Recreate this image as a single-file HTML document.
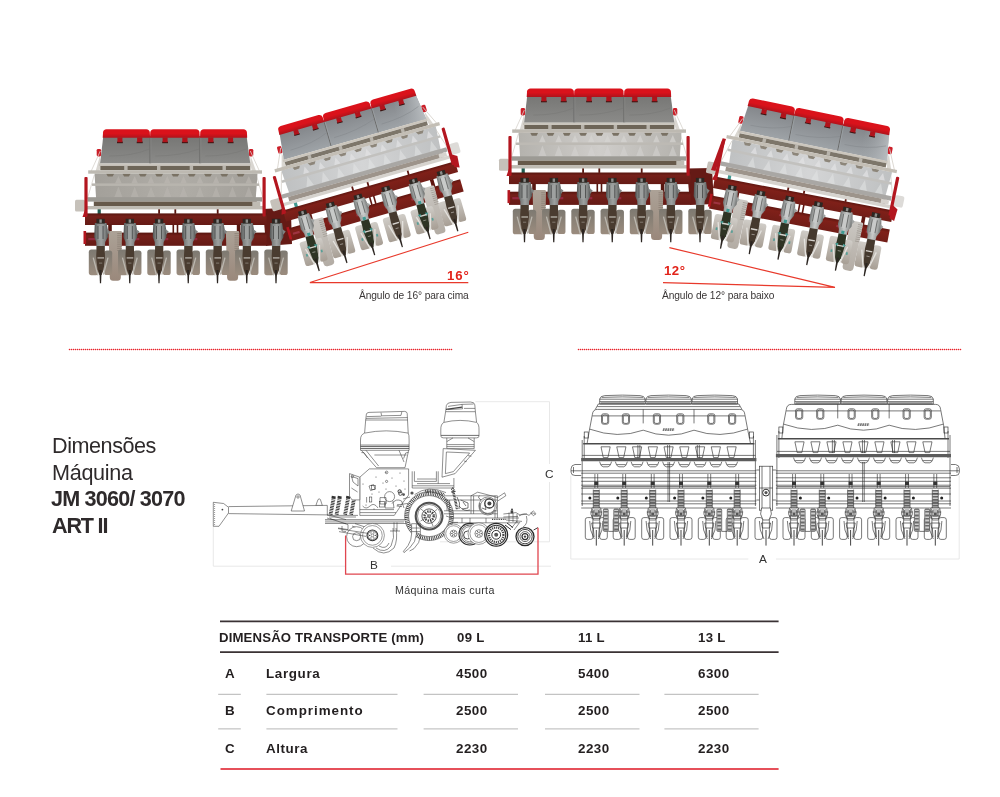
<!DOCTYPE html><html><head><meta charset="utf-8"><title>JM 3060/3070</title>
<style>
html,body{margin:0;padding:0;background:#fff;}
body{width:1000px;height:797px;position:relative;overflow:hidden;font-family:"Liberation Sans",sans-serif;color:#231f20;}
#g{position:absolute;left:0;top:0;}
.t{position:absolute;white-space:nowrap;line-height:1;will-change:transform;}
.cap{font-size:10.2px;color:#3a3636;letter-spacing:-0.09px;}
.cap2{font-size:10.7px;color:#333;letter-spacing:0.36px;}
.h1{font-size:21.6px;color:#2e2a2b;letter-spacing:-0.6px;}
.h1.b{font-weight:bold;letter-spacing:-1.2px;}
.lab{font-size:11.8px;color:#333;}
.th{font-size:13.2px;font-weight:bold;color:#231f20;}
.td{font-size:13.4px;font-weight:bold;color:#231f20;}
.ln{position:absolute;}
.ln.g{height:1px;background:#c4c4c4;}
</style></head><body>
<svg id="g" width="1000" height="797" viewBox="0 0 1000 797">
<path d="M263,209 L283,208 L291,214 L292,244 L266,246 Z" fill="#651a15"/>
<path d="M687,168.4 L712,168 L714,204 L690,205 Z" fill="#651a15"/>
<defs><linearGradient id="lidc" x1="0" y1="0" x2="0" y2="1"><stop offset="0" stop-color="#da121b"/><stop offset="0.5" stop-color="#da121b"/><stop offset="1" stop-color="#b0131b"/></linearGradient><linearGradient id="hopc" x1="0" y1="0" x2="0" y2="1"><stop offset="0" stop-color="#83868a"/><stop offset="1" stop-color="#9ea3a7"/></linearGradient><linearGradient id="sdc" x1="0" y1="0" x2="1" y2="0"><stop offset="0" stop-color="#9ea3a7" stop-opacity="0"/><stop offset="1" stop-color="#b9bdc0"/></linearGradient><linearGradient id="cwc" x1="0" y1="0" x2="0" y2="1"><stop offset="0" stop-color="#d0cdc8"/><stop offset="1" stop-color="#a79e94"/></linearGradient><linearGradient id="whc" x1="0" y1="0" x2="0" y2="1"><stop offset="0" stop-color="#cbc8c3"/><stop offset="1" stop-color="#b3aca4"/></linearGradient><linearGradient id="lowc" x1="0" y1="0" x2="1" y2="0"><stop offset="0" stop-color="#bfc1c2"/><stop offset="0.5" stop-color="#d4d5d6"/><stop offset="1" stop-color="#bfc1c2"/></linearGradient><linearGradient id="frc" x1="0" y1="0" x2="0" y2="1"><stop offset="0" stop-color="#5f1610"/><stop offset="0.25" stop-color="#7f2019"/><stop offset="1" stop-color="#711d17"/></linearGradient><linearGradient id="bdc" x1="0" y1="0" x2="1" y2="0"><stop offset="0" stop-color="#6c6e6d"/><stop offset="0.22" stop-color="#9fa2a1"/><stop offset="0.5" stop-color="#c8cac9"/><stop offset="0.8" stop-color="#9fa2a1"/><stop offset="1" stop-color="#6c6e6d"/></linearGradient></defs>
<g transform="translate(750,97.6) rotate(11.6) translate(-18,84) rotate(-0.8) translate(18,-84)">
<rect x="-5.7" y="79.6" width="3.2" height="5.4" fill="#3f9a92"/>
<rect x="54.9" y="79.6" width="1.8" height="5.2" fill="#5f1610"/>
<rect x="71.1" y="79.6" width="1.8" height="5.2" fill="#5f1610"/>
<rect x="113.5" y="79.6" width="1.8" height="5.2" fill="#5f1610"/>
<rect x="-18.3" y="84.4" width="181.5" height="11.6" fill="url(#frc)"/>
<rect x="4.9" y="95.5" width="3.6" height="8.6" fill="#5f1610"/>
<rect x="69.2" y="95.5" width="1.6" height="8.6" fill="#5f1610"/>
<rect x="73.4" y="95.5" width="1.6" height="8.6" fill="#5f1610"/>
<rect x="133.5" y="95.5" width="3.6" height="8.6" fill="#5f1610"/>
<rect x="-18.3" y="103.6" width="181.5" height="13.2" fill="url(#frc)"/>
<rect x="-15" y="109" width="7" height="2.2" fill="#a83a4c" opacity="0.8"/>
<rect x="23" y="109" width="13" height="2.2" fill="#a83a4c" opacity="0.8"/>
<rect x="52" y="109" width="8" height="2.2" fill="#a83a4c" opacity="0.8"/>
<rect x="60" y="109" width="5" height="2.2" fill="#a83a4c" opacity="0.8"/>
<rect x="82" y="109" width="12" height="2.2" fill="#a83a4c" opacity="0.8"/>
<rect x="110" y="109" width="9" height="2.2" fill="#a83a4c" opacity="0.8"/>
<rect x="140" y="109" width="10" height="2.2" fill="#a83a4c" opacity="0.8"/>
<rect x="-19.8" y="102" width="2.6" height="13" fill="#b3161f"/>
<path d="M5.3,103.4 Q5.3,102 6.7,102 L17.3,102 Q18.7,102 18.7,103.4 L17.5,148.6 Q17.3,151.8 14.3,151.8 L9.7,151.8 Q6.7,151.8 6.5,148.6 Z" fill="url(#whc)"/>
<rect x="13.9" y="104.2" width="4.6" height="0.9" fill="#a39d96"/>
<rect x="13.9" y="106.3" width="4.6" height="0.9" fill="#a39d96"/>
<rect x="13.9" y="108.4" width="4.6" height="0.9" fill="#a39d96"/>
<rect x="13.9" y="110.5" width="4.6" height="0.9" fill="#a39d96"/>
<rect x="13.9" y="112.6" width="4.6" height="0.9" fill="#a39d96"/>
<rect x="13.9" y="114.7" width="4.6" height="0.9" fill="#a39d96"/>
<rect x="13.9" y="116.8" width="4.6" height="0.9" fill="#a39d96"/>
<rect x="13.9" y="118.9" width="4.6" height="0.9" fill="#a39d96"/>
<rect x="13.9" y="121" width="4.6" height="0.9" fill="#a39d96"/>
<path d="M122.6,103.4 Q122.6,102 124,102 L134.6,102 Q136,102 136,103.4 L134.8,148.6 Q134.6,151.8 131.6,151.8 L127,151.8 Q124,151.8 123.8,148.6 Z" fill="url(#whc)"/>
<rect x="131.2" y="104.2" width="4.6" height="0.9" fill="#a39d96"/>
<rect x="131.2" y="106.3" width="4.6" height="0.9" fill="#a39d96"/>
<rect x="131.2" y="108.4" width="4.6" height="0.9" fill="#a39d96"/>
<rect x="131.2" y="110.5" width="4.6" height="0.9" fill="#a39d96"/>
<rect x="131.2" y="112.6" width="4.6" height="0.9" fill="#a39d96"/>
<rect x="131.2" y="114.7" width="4.6" height="0.9" fill="#a39d96"/>
<rect x="131.2" y="116.8" width="4.6" height="0.9" fill="#a39d96"/>
<rect x="131.2" y="118.9" width="4.6" height="0.9" fill="#a39d96"/>
<rect x="131.2" y="121" width="4.6" height="0.9" fill="#a39d96"/>
<rect x="-11.2" y="120.6" width="9.8" height="25.6" rx="2.6" fill="url(#cwc)"/>
<rect x="4.2" y="121.6" width="8" height="24.4" rx="2.6" fill="url(#cwc)"/>
<path d="M-5.2,94 L6.6,94 L7.8,101 L8,108 L5.2,113 L4.6,121 L-3.4,121 L-3.8,113 L-5.8,108 Z" fill="url(#bdc)"/>
<rect x="-1.4" y="97" width="3.8" height="14" fill="#c8cac9"/>
<rect x="-2.5" y="97" width="0.9" height="13" fill="#6c6e6d"/><rect x="2.6" y="97" width="0.9" height="13" fill="#6c6e6d"/>
<path d="M6.6,100 L10.2,102.4 L7.8,105.8 Z" fill="#9fa2a1"/>
<rect x="-3.6" y="89.8" width="8.4" height="4.8" fill="#2c2722"/>
<rect x="-0.6" y="90.4" width="2.4" height="3.4" fill="#8d8d8b"/>
<path d="M-3.2,117 L4.6,117 L5,127 L4.8,131 L3.6,141 L1.6,146 L-0.6,146 L-2.4,141 L-3.6,131 L-3.8,127 Z" fill="#2e3424"/>
<rect x="-1" y="113.6" width="3.2" height="3.2" fill="#3f9a92"/>
<path d="M-5,127.6 L-1.8,126.4 L-2,130.4 Z M6.2,127.6 L3,126.4 L3.2,130.4 Z" fill="#3f9a92"/>
<rect x="-8" y="134" width="1.8" height="2.6" fill="#3f9a92" opacity="0.8"/><rect x="7.6" y="134" width="1.8" height="2.6" fill="#3f9a92" opacity="0.8"/>
<path d="M-6.8,128.6 L-2,146.4 M8,128.6 L3.4,145.6" stroke="#e4e2de" stroke-width="1.3" fill="none"/>
<rect x="-2.6" y="128.2" width="6.6" height="1.4" fill="#e4e2de" opacity="0.9"/>
<rect x="-1" y="133.6" width="3.2" height="1" fill="#e4e2de" opacity="0.5"/>
<path d="M-0.6,141 L1.6,141 L1.1,154.2 L-0.1,154.2 Z" fill="#2b2521"/>
<rect x="18.05" y="120.6" width="9.8" height="25.6" rx="2.6" fill="url(#cwc)"/>
<rect x="33.45" y="121.6" width="8" height="24.4" rx="2.6" fill="url(#cwc)"/>
<path d="M24.05,94 L35.85,94 L37.05,101 L37.25,108 L34.45,113 L33.85,121 L25.85,121 L25.45,113 L23.45,108 Z" fill="url(#bdc)"/>
<rect x="27.85" y="97" width="3.8" height="14" fill="#c8cac9"/>
<rect x="26.75" y="97" width="0.9" height="13" fill="#6c6e6d"/><rect x="31.85" y="97" width="0.9" height="13" fill="#6c6e6d"/>
<path d="M35.85,100 L39.45,102.4 L37.05,105.8 Z" fill="#9fa2a1"/>
<rect x="25.65" y="89.8" width="8.4" height="4.8" fill="#2c2722"/>
<rect x="28.65" y="90.4" width="2.4" height="3.4" fill="#8d8d8b"/>
<path d="M26.05,117 L33.85,117 L34.25,127 L34.05,131 L32.85,141 L30.85,146 L28.65,146 L26.85,141 L25.65,131 L25.45,127 Z" fill="#45392e"/>
<path d="M22.45,128.6 L27.25,146.4 M37.25,128.6 L32.65,145.6" stroke="#e4e2de" stroke-width="1.3" fill="none"/>
<rect x="26.65" y="128.2" width="6.6" height="1.4" fill="#e4e2de" opacity="0.9"/>
<rect x="28.25" y="133.6" width="3.2" height="1" fill="#e4e2de" opacity="0.5"/>
<path d="M28.65,141 L30.85,141 L30.35,154.2 L29.15,154.2 Z" fill="#2b2521"/>
<rect x="47.3" y="120.6" width="9.8" height="25.6" rx="2.6" fill="url(#cwc)"/>
<rect x="62.7" y="121.6" width="8" height="24.4" rx="2.6" fill="url(#cwc)"/>
<path d="M53.3,94 L65.1,94 L66.3,101 L66.5,108 L63.7,113 L63.1,121 L55.1,121 L54.7,113 L52.7,108 Z" fill="url(#bdc)"/>
<rect x="57.1" y="97" width="3.8" height="14" fill="#c8cac9"/>
<rect x="56" y="97" width="0.9" height="13" fill="#6c6e6d"/><rect x="61.1" y="97" width="0.9" height="13" fill="#6c6e6d"/>
<path d="M65.1,100 L68.7,102.4 L66.3,105.8 Z" fill="#9fa2a1"/>
<rect x="54.9" y="89.8" width="8.4" height="4.8" fill="#2c2722"/>
<rect x="57.9" y="90.4" width="2.4" height="3.4" fill="#8d8d8b"/>
<path d="M55.3,117 L63.1,117 L63.5,127 L63.3,131 L62.1,141 L60.1,146 L57.9,146 L56.1,141 L54.9,131 L54.7,127 Z" fill="#2e3424"/>
<rect x="57.5" y="113.6" width="3.2" height="3.2" fill="#3f9a92"/>
<path d="M53.5,127.6 L56.7,126.4 L56.5,130.4 Z M64.7,127.6 L61.5,126.4 L61.7,130.4 Z" fill="#3f9a92"/>
<rect x="50.5" y="134" width="1.8" height="2.6" fill="#3f9a92" opacity="0.8"/><rect x="66.1" y="134" width="1.8" height="2.6" fill="#3f9a92" opacity="0.8"/>
<path d="M51.7,128.6 L56.5,146.4 M66.5,128.6 L61.9,145.6" stroke="#e4e2de" stroke-width="1.3" fill="none"/>
<rect x="55.9" y="128.2" width="6.6" height="1.4" fill="#e4e2de" opacity="0.9"/>
<rect x="57.5" y="133.6" width="3.2" height="1" fill="#e4e2de" opacity="0.5"/>
<path d="M57.9,141 L60.1,141 L59.6,154.2 L58.4,154.2 Z" fill="#2b2521"/>
<rect x="76.55" y="120.6" width="9.8" height="25.6" rx="2.6" fill="url(#cwc)"/>
<rect x="91.95" y="121.6" width="8" height="24.4" rx="2.6" fill="url(#cwc)"/>
<path d="M82.55,94 L94.35,94 L95.55,101 L95.75,108 L92.95,113 L92.35,121 L84.35,121 L83.95,113 L81.95,108 Z" fill="url(#bdc)"/>
<rect x="86.35" y="97" width="3.8" height="14" fill="#c8cac9"/>
<rect x="85.25" y="97" width="0.9" height="13" fill="#6c6e6d"/><rect x="90.35" y="97" width="0.9" height="13" fill="#6c6e6d"/>
<path d="M94.35,100 L97.95,102.4 L95.55,105.8 Z" fill="#9fa2a1"/>
<rect x="84.15" y="89.8" width="8.4" height="4.8" fill="#2c2722"/>
<rect x="87.15" y="90.4" width="2.4" height="3.4" fill="#8d8d8b"/>
<path d="M84.55,117 L92.35,117 L92.75,127 L92.55,131 L91.35,141 L89.35,146 L87.15,146 L85.35,141 L84.15,131 L83.95,127 Z" fill="#45392e"/>
<path d="M80.95,128.6 L85.75,146.4 M95.75,128.6 L91.15,145.6" stroke="#e4e2de" stroke-width="1.3" fill="none"/>
<rect x="85.15" y="128.2" width="6.6" height="1.4" fill="#e4e2de" opacity="0.9"/>
<rect x="86.75" y="133.6" width="3.2" height="1" fill="#e4e2de" opacity="0.5"/>
<path d="M87.15,141 L89.35,141 L88.85,154.2 L87.65,154.2 Z" fill="#2b2521"/>
<rect x="105.8" y="120.6" width="9.8" height="25.6" rx="2.6" fill="url(#cwc)"/>
<rect x="121.2" y="121.6" width="8" height="24.4" rx="2.6" fill="url(#cwc)"/>
<path d="M111.8,94 L123.6,94 L124.8,101 L125,108 L122.2,113 L121.6,121 L113.6,121 L113.2,113 L111.2,108 Z" fill="url(#bdc)"/>
<rect x="115.6" y="97" width="3.8" height="14" fill="#c8cac9"/>
<rect x="114.5" y="97" width="0.9" height="13" fill="#6c6e6d"/><rect x="119.6" y="97" width="0.9" height="13" fill="#6c6e6d"/>
<path d="M123.6,100 L127.2,102.4 L124.8,105.8 Z" fill="#9fa2a1"/>
<rect x="113.4" y="89.8" width="8.4" height="4.8" fill="#2c2722"/>
<rect x="116.4" y="90.4" width="2.4" height="3.4" fill="#8d8d8b"/>
<path d="M113.8,117 L121.6,117 L122,127 L121.8,131 L120.6,141 L118.6,146 L116.4,146 L114.6,141 L113.4,131 L113.2,127 Z" fill="#2e3424"/>
<rect x="116" y="113.6" width="3.2" height="3.2" fill="#3f9a92"/>
<path d="M112,127.6 L115.2,126.4 L115,130.4 Z M123.2,127.6 L120,126.4 L120.2,130.4 Z" fill="#3f9a92"/>
<rect x="109" y="134" width="1.8" height="2.6" fill="#3f9a92" opacity="0.8"/><rect x="124.6" y="134" width="1.8" height="2.6" fill="#3f9a92" opacity="0.8"/>
<path d="M110.2,128.6 L115,146.4 M125,128.6 L120.4,145.6" stroke="#e4e2de" stroke-width="1.3" fill="none"/>
<rect x="114.4" y="128.2" width="6.6" height="1.4" fill="#e4e2de" opacity="0.9"/>
<rect x="116" y="133.6" width="3.2" height="1" fill="#e4e2de" opacity="0.5"/>
<path d="M116.4,141 L118.6,141 L118.1,154.2 L116.9,154.2 Z" fill="#2b2521"/>
<rect x="135.05" y="120.6" width="9.8" height="25.6" rx="2.6" fill="url(#cwc)"/>
<rect x="150.45" y="121.6" width="8" height="24.4" rx="2.6" fill="url(#cwc)"/>
<path d="M141.05,94 L152.85,94 L154.05,101 L154.25,108 L151.45,113 L150.85,121 L142.85,121 L142.45,113 L140.45,108 Z" fill="url(#bdc)"/>
<rect x="144.85" y="97" width="3.8" height="14" fill="#c8cac9"/>
<rect x="143.75" y="97" width="0.9" height="13" fill="#6c6e6d"/><rect x="148.85" y="97" width="0.9" height="13" fill="#6c6e6d"/>
<path d="M152.85,100 L156.45,102.4 L154.05,105.8 Z" fill="#9fa2a1"/>
<rect x="142.65" y="89.8" width="8.4" height="4.8" fill="#2c2722"/>
<rect x="145.65" y="90.4" width="2.4" height="3.4" fill="#8d8d8b"/>
<path d="M143.05,117 L150.85,117 L151.25,127 L151.05,131 L149.85,141 L147.85,146 L145.65,146 L143.85,141 L142.65,131 L142.45,127 Z" fill="#45392e"/>
<path d="M139.45,128.6 L144.25,146.4 M154.25,128.6 L149.65,145.6" stroke="#e4e2de" stroke-width="1.3" fill="none"/>
<rect x="143.65" y="128.2" width="6.6" height="1.4" fill="#e4e2de" opacity="0.9"/>
<rect x="145.25" y="133.6" width="3.2" height="1" fill="#e4e2de" opacity="0.5"/>
<path d="M145.65,141 L147.85,141 L147.35,154.2 L146.15,154.2 Z" fill="#2b2521"/>
</g>
<g transform="translate(750,97.6) rotate(11.6)">
<rect x="-6.6" y="19.9" width="4.4" height="7.5" rx="1.4" fill="#cc1f29"/>
<rect x="145.6" y="19.9" width="4.4" height="7.5" rx="1.4" fill="#cc1f29"/>
<path d="M-3,22 L-13,44 M-9,46 L-16,70 M147,22 L157,44 M153,46 L160,70" stroke="#d6d2cb" stroke-width="0.8" fill="none"/>
<path d="M-3.4,27 L-8.4,44.6 L-4,44.6 L-2.6,34 Z M147.4,27 L153.6,44.6 L149,44.6 L146.8,34 Z" fill="#cbc6bd" opacity="0.7"/>
<path d="M0,7 L143.3,7 L147,34.6 L-3.2,34.6 Z" fill="url(#hopc)"/>
<path d="M120,7 L143.3,7 L147,34.6 L118,34.6 Z" fill="url(#sdc)"/>
<path d="M46.7,9 L46.7,34.6 M96.6,9 L96.6,34.6" stroke="#6a6a69" stroke-width="1"/>
<path d="M47.6,9 L47.6,34.6 M97.5,9 L97.5,34.6" stroke="#9ea3a7" stroke-width="0.8" opacity="0.9"/>
<path d="M6,27 Q30,27 46,20 M52,27 Q76,27 96,20 M102,27 Q126,27 143,20" stroke="#83868a" stroke-width="0.6" fill="none" opacity="0.8"/>
<path d="M-0.6,8.8 L-0.3,3.4 Q0,0.6 3.2,0.3 L43,0.3 Q46.2,0.6 46.5,3.4 L46.8,8.8 Z" fill="url(#lidc)"/>
<path d="M46.7,8.8 L47,3.4 Q47.3,0.6 50.5,0.3 L92.7,0.3 Q95.9,0.6 96.2,3.4 L96.5,8.8 Z" fill="url(#lidc)"/>
<path d="M96.7,8.8 L97,3.4 Q97.3,0.6 100.5,0.3 L140.1,0.3 Q143.3,0.6 143.6,3.4 L143.9,8.8 Z" fill="url(#lidc)"/>
<rect x="13.7" y="12.6" width="5.8" height="1.6" fill="#3a1512"/>
<rect x="14.1" y="8.4" width="5" height="4.8" fill="#b0131b"/>
<rect x="33.4" y="12.6" width="6" height="1.6" fill="#3a1512"/>
<rect x="33.8" y="8.4" width="5.2" height="4.8" fill="#b0131b"/>
<rect x="58.9" y="12.6" width="5.8" height="1.6" fill="#3a1512"/>
<rect x="59.3" y="8.4" width="5" height="4.8" fill="#b0131b"/>
<rect x="78.6" y="12.6" width="6" height="1.6" fill="#3a1512"/>
<rect x="79" y="8.4" width="5.2" height="4.8" fill="#b0131b"/>
<rect x="104.5" y="12.6" width="6" height="1.6" fill="#3a1512"/>
<rect x="104.9" y="8.4" width="5.2" height="4.8" fill="#b0131b"/>
<rect x="124.4" y="12.6" width="5.8" height="1.6" fill="#3a1512"/>
<rect x="124.8" y="8.4" width="5" height="4.8" fill="#b0131b"/>
<rect x="-4.4" y="34.5" width="152" height="2.4" fill="#cbc6bd"/>
<rect x="-3" y="36.9" width="150" height="4.4" fill="#7d766a"/>
<rect x="20.9" y="36.9" width="3.4" height="4.4" fill="#b9b5ad"/>
<rect x="53.7" y="36.9" width="3.4" height="4.4" fill="#b9b5ad"/>
<rect x="86.4" y="36.9" width="3.4" height="4.4" fill="#b9b5ad"/>
<rect x="119.2" y="36.9" width="3.4" height="4.4" fill="#b9b5ad"/>
<path d="M-8.8,44.5 L154.2,44.5 L152.5,69 L-7.2,69 Z" fill="url(#lowc)"/>
<path d="M2.9,44.7 L10.9,44.7 L9.3,47.6 L4.5,47.6 Z" fill="#8d867a"/>
<path d="M15.1,47 L18.4,54.4 L11.7,54.4 Z" fill="#e2e3e4" opacity="0.7"/>
<path d="M15.1,57.5 L19.1,68 L11.1,68 Z" fill="#e2e3e4" opacity="0.55"/>
<path d="M19.2,44.7 L27.2,44.7 L25.6,47.6 L20.8,47.6 Z" fill="#8d867a"/>
<path d="M31.4,47 L34.7,54.4 L28,54.4 Z" fill="#e2e3e4" opacity="0.7"/>
<path d="M31.4,57.5 L35.4,68 L27.4,68 Z" fill="#e2e3e4" opacity="0.55"/>
<path d="M35.5,44.7 L43.5,44.7 L41.9,47.6 L37.1,47.6 Z" fill="#8d867a"/>
<path d="M47.7,47 L51,54.4 L44.3,54.4 Z" fill="#e2e3e4" opacity="0.7"/>
<path d="M47.7,57.5 L51.7,68 L43.7,68 Z" fill="#e2e3e4" opacity="0.55"/>
<path d="M51.8,44.7 L59.8,44.7 L58.2,47.6 L53.4,47.6 Z" fill="#8d867a"/>
<path d="M64,47 L67.3,54.4 L60.6,54.4 Z" fill="#e2e3e4" opacity="0.7"/>
<path d="M64,57.5 L68,68 L60,68 Z" fill="#e2e3e4" opacity="0.55"/>
<path d="M68.1,44.7 L76.1,44.7 L74.5,47.6 L69.7,47.6 Z" fill="#8d867a"/>
<path d="M80.3,47 L83.6,54.4 L76.9,54.4 Z" fill="#e2e3e4" opacity="0.7"/>
<path d="M80.3,57.5 L84.3,68 L76.3,68 Z" fill="#e2e3e4" opacity="0.55"/>
<path d="M84.4,44.7 L92.4,44.7 L90.8,47.6 L86,47.6 Z" fill="#8d867a"/>
<path d="M96.6,47 L99.9,54.4 L93.2,54.4 Z" fill="#e2e3e4" opacity="0.7"/>
<path d="M96.6,57.5 L100.6,68 L92.6,68 Z" fill="#e2e3e4" opacity="0.55"/>
<path d="M100.7,44.7 L108.7,44.7 L107.1,47.6 L102.3,47.6 Z" fill="#8d867a"/>
<path d="M112.9,47 L116.2,54.4 L109.5,54.4 Z" fill="#e2e3e4" opacity="0.7"/>
<path d="M112.9,57.5 L116.9,68 L108.9,68 Z" fill="#e2e3e4" opacity="0.55"/>
<path d="M117,44.7 L125,44.7 L123.4,47.6 L118.6,47.6 Z" fill="#8d867a"/>
<path d="M129.2,47 L132.5,54.4 L125.8,54.4 Z" fill="#e2e3e4" opacity="0.7"/>
<path d="M129.2,57.5 L133.2,68 L125.2,68 Z" fill="#e2e3e4" opacity="0.55"/>
<path d="M133.3,44.7 L141.3,44.7 L139.7,47.6 L134.9,47.6 Z" fill="#8d867a"/>
<path d="M145.5,47 L148.8,54.4 L142.1,54.4 Z" fill="#e2e3e4" opacity="0.7"/>
<path d="M145.5,57.5 L149.5,68 L141.5,68 Z" fill="#e2e3e4" opacity="0.55"/>
<rect x="-15.1" y="41.3" width="173.8" height="3.4" fill="#c3beb5"/>
<rect x="-11.3" y="54.4" width="167" height="2.5" fill="#c2c1be"/>
<rect x="-15.7" y="68.2" width="174.4" height="4.4" fill="#a9a7a4"/>
<rect x="-9.5" y="72.6" width="163" height="4.6" fill="#9d948b"/>
<rect x="149" y="72.8" width="8" height="4.2" fill="#d6d3ce"/>
<rect x="-18.3" y="77" width="179.5" height="3.4" fill="#d6d3ce"/>
<rect x="-28.3" y="70.7" width="10" height="11.9" rx="1.5" fill="#c6c1ba"/>
<rect x="162" y="66" width="9.5" height="11.5" rx="2" fill="#dddbd8"/>
<path d="M160.5,76 L167,80 L166,92 L161,90 Z" fill="#b3161f"/>
<rect x="-18.9" y="48" width="3.2" height="39.6" rx="1" fill="#b3161f"/>
<rect x="159.2" y="48" width="3.2" height="39.6" rx="1" fill="#b3161f"/>
<path d="M-17.5,78 L-20.8,88 L-16.5,88 Z" fill="#b3161f"/>
</g>
<path d="M722.7,138.2 L726,139 L715.5,171 L711,170 Z" fill="#b3161f"/>
<defs><linearGradient id="lidd" x1="0" y1="0" x2="0" y2="1"><stop offset="0" stop-color="#da121b"/><stop offset="0.5" stop-color="#da121b"/><stop offset="1" stop-color="#b0131b"/></linearGradient><linearGradient id="hopd" x1="0" y1="0" x2="0" y2="1"><stop offset="0" stop-color="#767674"/><stop offset="1" stop-color="#8b8b89"/></linearGradient><linearGradient id="sdd" x1="0" y1="0" x2="1" y2="0"><stop offset="0" stop-color="#8b8b89" stop-opacity="0"/><stop offset="1" stop-color="#8b8b89"/></linearGradient><linearGradient id="cwd" x1="0" y1="0" x2="0" y2="1"><stop offset="0" stop-color="#7d7971"/><stop offset="1" stop-color="#9b8c7e"/></linearGradient><linearGradient id="whd" x1="0" y1="0" x2="0" y2="1"><stop offset="0" stop-color="#aca297"/><stop offset="1" stop-color="#9a887b"/></linearGradient><linearGradient id="lowd" x1="0" y1="0" x2="1" y2="0"><stop offset="0" stop-color="#b4b2ad"/><stop offset="0.5" stop-color="#cfcdca"/><stop offset="1" stop-color="#b4b2ad"/></linearGradient><linearGradient id="frd" x1="0" y1="0" x2="0" y2="1"><stop offset="0" stop-color="#57160f"/><stop offset="0.25" stop-color="#74201a"/><stop offset="1" stop-color="#651a15"/></linearGradient><linearGradient id="bdd" x1="0" y1="0" x2="1" y2="0"><stop offset="0" stop-color="#4f5150"/><stop offset="0.22" stop-color="#7f8281"/><stop offset="0.5" stop-color="#9ea1a0"/><stop offset="0.8" stop-color="#7f8281"/><stop offset="1" stop-color="#4f5150"/></linearGradient></defs>
<g transform="translate(527.3,88.1)">
<rect x="-5.7" y="79.6" width="3.2" height="5.4" fill="#1f5a4e"/>
<rect x="54.9" y="79.6" width="1.8" height="5.2" fill="#57160f"/>
<rect x="71.1" y="79.6" width="1.8" height="5.2" fill="#57160f"/>
<rect x="113.5" y="79.6" width="1.8" height="5.2" fill="#57160f"/>
<rect x="-18.3" y="84.4" width="181.5" height="11.6" fill="url(#frd)"/>
<rect x="4.9" y="95.5" width="3.6" height="8.6" fill="#57160f"/>
<rect x="69.2" y="95.5" width="1.6" height="8.6" fill="#57160f"/>
<rect x="73.4" y="95.5" width="1.6" height="8.6" fill="#57160f"/>
<rect x="133.5" y="95.5" width="3.6" height="8.6" fill="#57160f"/>
<rect x="-18.3" y="103.6" width="181.5" height="13.2" fill="url(#frd)"/>
<rect x="-15" y="109" width="7" height="2.2" fill="#9a2c48" opacity="0.8"/>
<rect x="23" y="109" width="13" height="2.2" fill="#9a2c48" opacity="0.8"/>
<rect x="52" y="109" width="8" height="2.2" fill="#9a2c48" opacity="0.8"/>
<rect x="60" y="109" width="5" height="2.2" fill="#9a2c48" opacity="0.8"/>
<rect x="82" y="109" width="12" height="2.2" fill="#9a2c48" opacity="0.8"/>
<rect x="110" y="109" width="9" height="2.2" fill="#9a2c48" opacity="0.8"/>
<rect x="140" y="109" width="10" height="2.2" fill="#9a2c48" opacity="0.8"/>
<rect x="-19.8" y="102" width="2.6" height="13" fill="#b3161f"/>
<path d="M5.3,103.4 Q5.3,102 6.7,102 L17.3,102 Q18.7,102 18.7,103.4 L17.5,148.6 Q17.3,151.8 14.3,151.8 L9.7,151.8 Q6.7,151.8 6.5,148.6 Z" fill="url(#whd)"/>
<rect x="13.9" y="104.2" width="4.6" height="0.9" fill="#8f8378"/>
<rect x="13.9" y="106.3" width="4.6" height="0.9" fill="#8f8378"/>
<rect x="13.9" y="108.4" width="4.6" height="0.9" fill="#8f8378"/>
<rect x="13.9" y="110.5" width="4.6" height="0.9" fill="#8f8378"/>
<rect x="13.9" y="112.6" width="4.6" height="0.9" fill="#8f8378"/>
<rect x="13.9" y="114.7" width="4.6" height="0.9" fill="#8f8378"/>
<rect x="13.9" y="116.8" width="4.6" height="0.9" fill="#8f8378"/>
<rect x="13.9" y="118.9" width="4.6" height="0.9" fill="#8f8378"/>
<rect x="13.9" y="121" width="4.6" height="0.9" fill="#8f8378"/>
<path d="M122.6,103.4 Q122.6,102 124,102 L134.6,102 Q136,102 136,103.4 L134.8,148.6 Q134.6,151.8 131.6,151.8 L127,151.8 Q124,151.8 123.8,148.6 Z" fill="url(#whd)"/>
<rect x="131.2" y="104.2" width="4.6" height="0.9" fill="#8f8378"/>
<rect x="131.2" y="106.3" width="4.6" height="0.9" fill="#8f8378"/>
<rect x="131.2" y="108.4" width="4.6" height="0.9" fill="#8f8378"/>
<rect x="131.2" y="110.5" width="4.6" height="0.9" fill="#8f8378"/>
<rect x="131.2" y="112.6" width="4.6" height="0.9" fill="#8f8378"/>
<rect x="131.2" y="114.7" width="4.6" height="0.9" fill="#8f8378"/>
<rect x="131.2" y="116.8" width="4.6" height="0.9" fill="#8f8378"/>
<rect x="131.2" y="118.9" width="4.6" height="0.9" fill="#8f8378"/>
<rect x="131.2" y="121" width="4.6" height="0.9" fill="#8f8378"/>
<rect x="-14.5" y="120.6" width="9.8" height="25.6" rx="2.6" fill="url(#cwd)"/>
<rect x="0.9" y="121.6" width="8" height="24.4" rx="2.6" fill="url(#cwd)"/>
<path d="M-8.5,94 L3.3,94 L4.5,101 L4.7,108 L1.9,113 L1.3,121 L-6.7,121 L-7.1,113 L-9.1,108 Z" fill="url(#bdd)"/>
<rect x="-4.7" y="97" width="3.8" height="14" fill="#9ea1a0"/>
<rect x="-5.8" y="97" width="0.9" height="13" fill="#4f5150"/><rect x="-0.7" y="97" width="0.9" height="13" fill="#4f5150"/>
<path d="M3.3,100 L6.9,102.4 L4.5,105.8 Z" fill="#7f8281"/>
<rect x="-6.9" y="89.8" width="8.4" height="4.8" fill="#2c2722"/>
<rect x="-3.9" y="90.4" width="2.4" height="3.4" fill="#8d8d8b"/>
<path d="M-6.5,117 L1.3,117 L1.7,127 L1.5,131 L0.3,141 L-1.7,146 L-3.9,146 L-5.7,141 L-6.9,131 L-7.1,127 Z" fill="#4a3c30"/>
<path d="M-10.1,128.6 L-5.3,146.4 M4.7,128.6 L0.1,145.6" stroke="#bbb7af" stroke-width="1.3" fill="none"/>
<rect x="-5.9" y="128.2" width="6.6" height="1.4" fill="#bbb7af" opacity="0.9"/>
<rect x="-4.3" y="133.6" width="3.2" height="1" fill="#bbb7af" opacity="0.5"/>
<path d="M-3.9,141 L-1.7,141 L-2.2,154.2 L-3.4,154.2 Z" fill="#2b2521"/>
<rect x="14.75" y="120.6" width="9.8" height="25.6" rx="2.6" fill="url(#cwd)"/>
<rect x="30.15" y="121.6" width="8" height="24.4" rx="2.6" fill="url(#cwd)"/>
<path d="M20.75,94 L32.55,94 L33.75,101 L33.95,108 L31.15,113 L30.55,121 L22.55,121 L22.15,113 L20.15,108 Z" fill="url(#bdd)"/>
<rect x="24.55" y="97" width="3.8" height="14" fill="#9ea1a0"/>
<rect x="23.45" y="97" width="0.9" height="13" fill="#4f5150"/><rect x="28.55" y="97" width="0.9" height="13" fill="#4f5150"/>
<path d="M32.55,100 L36.15,102.4 L33.75,105.8 Z" fill="#7f8281"/>
<rect x="22.35" y="89.8" width="8.4" height="4.8" fill="#2c2722"/>
<rect x="25.35" y="90.4" width="2.4" height="3.4" fill="#8d8d8b"/>
<path d="M22.75,117 L30.55,117 L30.95,127 L30.75,131 L29.55,141 L27.55,146 L25.35,146 L23.55,141 L22.35,131 L22.15,127 Z" fill="#4a3c30"/>
<path d="M19.15,128.6 L23.95,146.4 M33.95,128.6 L29.35,145.6" stroke="#bbb7af" stroke-width="1.3" fill="none"/>
<rect x="23.35" y="128.2" width="6.6" height="1.4" fill="#bbb7af" opacity="0.9"/>
<rect x="24.95" y="133.6" width="3.2" height="1" fill="#bbb7af" opacity="0.5"/>
<path d="M25.35,141 L27.55,141 L27.05,154.2 L25.85,154.2 Z" fill="#2b2521"/>
<rect x="44" y="120.6" width="9.8" height="25.6" rx="2.6" fill="url(#cwd)"/>
<rect x="59.4" y="121.6" width="8" height="24.4" rx="2.6" fill="url(#cwd)"/>
<path d="M50,94 L61.8,94 L63,101 L63.2,108 L60.4,113 L59.8,121 L51.8,121 L51.4,113 L49.4,108 Z" fill="url(#bdd)"/>
<rect x="53.8" y="97" width="3.8" height="14" fill="#9ea1a0"/>
<rect x="52.7" y="97" width="0.9" height="13" fill="#4f5150"/><rect x="57.8" y="97" width="0.9" height="13" fill="#4f5150"/>
<path d="M61.8,100 L65.4,102.4 L63,105.8 Z" fill="#7f8281"/>
<rect x="51.6" y="89.8" width="8.4" height="4.8" fill="#2c2722"/>
<rect x="54.6" y="90.4" width="2.4" height="3.4" fill="#8d8d8b"/>
<path d="M52,117 L59.8,117 L60.2,127 L60,131 L58.8,141 L56.8,146 L54.6,146 L52.8,141 L51.6,131 L51.4,127 Z" fill="#4a3c30"/>
<path d="M48.4,128.6 L53.2,146.4 M63.2,128.6 L58.6,145.6" stroke="#bbb7af" stroke-width="1.3" fill="none"/>
<rect x="52.6" y="128.2" width="6.6" height="1.4" fill="#bbb7af" opacity="0.9"/>
<rect x="54.2" y="133.6" width="3.2" height="1" fill="#bbb7af" opacity="0.5"/>
<path d="M54.6,141 L56.8,141 L56.3,154.2 L55.1,154.2 Z" fill="#2b2521"/>
<rect x="73.25" y="120.6" width="9.8" height="25.6" rx="2.6" fill="url(#cwd)"/>
<rect x="88.65" y="121.6" width="8" height="24.4" rx="2.6" fill="url(#cwd)"/>
<path d="M79.25,94 L91.05,94 L92.25,101 L92.45,108 L89.65,113 L89.05,121 L81.05,121 L80.65,113 L78.65,108 Z" fill="url(#bdd)"/>
<rect x="83.05" y="97" width="3.8" height="14" fill="#9ea1a0"/>
<rect x="81.95" y="97" width="0.9" height="13" fill="#4f5150"/><rect x="87.05" y="97" width="0.9" height="13" fill="#4f5150"/>
<path d="M91.05,100 L94.65,102.4 L92.25,105.8 Z" fill="#7f8281"/>
<rect x="80.85" y="89.8" width="8.4" height="4.8" fill="#2c2722"/>
<rect x="83.85" y="90.4" width="2.4" height="3.4" fill="#8d8d8b"/>
<path d="M81.25,117 L89.05,117 L89.45,127 L89.25,131 L88.05,141 L86.05,146 L83.85,146 L82.05,141 L80.85,131 L80.65,127 Z" fill="#4a3c30"/>
<path d="M77.65,128.6 L82.45,146.4 M92.45,128.6 L87.85,145.6" stroke="#bbb7af" stroke-width="1.3" fill="none"/>
<rect x="81.85" y="128.2" width="6.6" height="1.4" fill="#bbb7af" opacity="0.9"/>
<rect x="83.45" y="133.6" width="3.2" height="1" fill="#bbb7af" opacity="0.5"/>
<path d="M83.85,141 L86.05,141 L85.55,154.2 L84.35,154.2 Z" fill="#2b2521"/>
<rect x="102.5" y="120.6" width="9.8" height="25.6" rx="2.6" fill="url(#cwd)"/>
<rect x="117.9" y="121.6" width="8" height="24.4" rx="2.6" fill="url(#cwd)"/>
<path d="M108.5,94 L120.3,94 L121.5,101 L121.7,108 L118.9,113 L118.3,121 L110.3,121 L109.9,113 L107.9,108 Z" fill="url(#bdd)"/>
<rect x="112.3" y="97" width="3.8" height="14" fill="#9ea1a0"/>
<rect x="111.2" y="97" width="0.9" height="13" fill="#4f5150"/><rect x="116.3" y="97" width="0.9" height="13" fill="#4f5150"/>
<path d="M120.3,100 L123.9,102.4 L121.5,105.8 Z" fill="#7f8281"/>
<rect x="110.1" y="89.8" width="8.4" height="4.8" fill="#2c2722"/>
<rect x="113.1" y="90.4" width="2.4" height="3.4" fill="#8d8d8b"/>
<path d="M110.5,117 L118.3,117 L118.7,127 L118.5,131 L117.3,141 L115.3,146 L113.1,146 L111.3,141 L110.1,131 L109.9,127 Z" fill="#4a3c30"/>
<path d="M106.9,128.6 L111.7,146.4 M121.7,128.6 L117.1,145.6" stroke="#bbb7af" stroke-width="1.3" fill="none"/>
<rect x="111.1" y="128.2" width="6.6" height="1.4" fill="#bbb7af" opacity="0.9"/>
<rect x="112.7" y="133.6" width="3.2" height="1" fill="#bbb7af" opacity="0.5"/>
<path d="M113.1,141 L115.3,141 L114.8,154.2 L113.6,154.2 Z" fill="#2b2521"/>
<rect x="131.75" y="120.6" width="9.8" height="25.6" rx="2.6" fill="url(#cwd)"/>
<rect x="147.15" y="121.6" width="8" height="24.4" rx="2.6" fill="url(#cwd)"/>
<path d="M137.75,94 L149.55,94 L150.75,101 L150.95,108 L148.15,113 L147.55,121 L139.55,121 L139.15,113 L137.15,108 Z" fill="url(#bdd)"/>
<rect x="141.55" y="97" width="3.8" height="14" fill="#9ea1a0"/>
<rect x="140.45" y="97" width="0.9" height="13" fill="#4f5150"/><rect x="145.55" y="97" width="0.9" height="13" fill="#4f5150"/>
<path d="M149.55,100 L153.15,102.4 L150.75,105.8 Z" fill="#7f8281"/>
<rect x="139.35" y="89.8" width="8.4" height="4.8" fill="#2c2722"/>
<rect x="142.35" y="90.4" width="2.4" height="3.4" fill="#8d8d8b"/>
<path d="M139.75,117 L147.55,117 L147.95,127 L147.75,131 L146.55,141 L144.55,146 L142.35,146 L140.55,141 L139.35,131 L139.15,127 Z" fill="#4a3c30"/>
<path d="M136.15,128.6 L140.95,146.4 M150.95,128.6 L146.35,145.6" stroke="#bbb7af" stroke-width="1.3" fill="none"/>
<rect x="140.35" y="128.2" width="6.6" height="1.4" fill="#bbb7af" opacity="0.9"/>
<rect x="141.95" y="133.6" width="3.2" height="1" fill="#bbb7af" opacity="0.5"/>
<path d="M142.35,141 L144.55,141 L144.05,154.2 L142.85,154.2 Z" fill="#2b2521"/>
<rect x="161" y="120.6" width="9.8" height="25.6" rx="2.6" fill="url(#cwd)"/>
<rect x="176.4" y="121.6" width="8" height="24.4" rx="2.6" fill="url(#cwd)"/>
<path d="M167,94 L178.8,94 L180,101 L180.2,108 L177.4,113 L176.8,121 L168.8,121 L168.4,113 L166.4,108 Z" fill="url(#bdd)"/>
<rect x="170.8" y="97" width="3.8" height="14" fill="#9ea1a0"/>
<rect x="169.7" y="97" width="0.9" height="13" fill="#4f5150"/><rect x="174.8" y="97" width="0.9" height="13" fill="#4f5150"/>
<path d="M178.8,100 L182.4,102.4 L180,105.8 Z" fill="#7f8281"/>
<rect x="168.6" y="89.8" width="8.4" height="4.8" fill="#2c2722"/>
<rect x="171.6" y="90.4" width="2.4" height="3.4" fill="#8d8d8b"/>
<path d="M169,117 L176.8,117 L177.2,127 L177,131 L175.8,141 L173.8,146 L171.6,146 L169.8,141 L168.6,131 L168.4,127 Z" fill="#4a3c30"/>
<path d="M165.4,128.6 L170.2,146.4 M180.2,128.6 L175.6,145.6" stroke="#bbb7af" stroke-width="1.3" fill="none"/>
<rect x="169.6" y="128.2" width="6.6" height="1.4" fill="#bbb7af" opacity="0.9"/>
<rect x="171.2" y="133.6" width="3.2" height="1" fill="#bbb7af" opacity="0.5"/>
<path d="M171.6,141 L173.8,141 L173.3,154.2 L172.1,154.2 Z" fill="#2b2521"/>
</g>
<g transform="translate(527.3,88.1)">
<rect x="-6.6" y="19.9" width="4.4" height="7.5" rx="1.4" fill="#cc1f29"/>
<rect x="145.6" y="19.9" width="4.4" height="7.5" rx="1.4" fill="#cc1f29"/>
<path d="M-3,22 L-13,44 M-9,46 L-16,70 M147,22 L157,44 M153,46 L160,70" stroke="#d6d2cb" stroke-width="0.8" fill="none"/>
<path d="M-3.4,27 L-8.4,44.6 L-4,44.6 L-2.6,34 Z M147.4,27 L153.6,44.6 L149,44.6 L146.8,34 Z" fill="#c9c5bd" opacity="0.7"/>
<path d="M0,7 L143.3,7 L147,34.6 L-3.2,34.6 Z" fill="url(#hopd)"/>
<path d="M46.7,9 L46.7,34.6 M96.6,9 L96.6,34.6" stroke="#6a6a69" stroke-width="1"/>
<path d="M47.6,9 L47.6,34.6 M97.5,9 L97.5,34.6" stroke="#8b8b89" stroke-width="0.8" opacity="0.9"/>
<path d="M6,27 Q30,27 46,20 M52,27 Q76,27 96,20 M102,27 Q126,27 143,20" stroke="#767674" stroke-width="0.6" fill="none" opacity="0.8"/>
<path d="M-0.6,8.8 L-0.3,3.4 Q0,0.6 3.2,0.3 L43,0.3 Q46.2,0.6 46.5,3.4 L46.8,8.8 Z" fill="url(#lidd)"/>
<path d="M46.7,8.8 L47,3.4 Q47.3,0.6 50.5,0.3 L92.7,0.3 Q95.9,0.6 96.2,3.4 L96.5,8.8 Z" fill="url(#lidd)"/>
<path d="M96.7,8.8 L97,3.4 Q97.3,0.6 100.5,0.3 L140.1,0.3 Q143.3,0.6 143.6,3.4 L143.9,8.8 Z" fill="url(#lidd)"/>
<rect x="13.7" y="12.6" width="5.8" height="1.6" fill="#3a1512"/>
<rect x="14.1" y="8.4" width="5" height="4.8" fill="#b0131b"/>
<rect x="33.4" y="12.6" width="6" height="1.6" fill="#3a1512"/>
<rect x="33.8" y="8.4" width="5.2" height="4.8" fill="#b0131b"/>
<rect x="58.9" y="12.6" width="5.8" height="1.6" fill="#3a1512"/>
<rect x="59.3" y="8.4" width="5" height="4.8" fill="#b0131b"/>
<rect x="78.6" y="12.6" width="6" height="1.6" fill="#3a1512"/>
<rect x="79" y="8.4" width="5.2" height="4.8" fill="#b0131b"/>
<rect x="104.5" y="12.6" width="6" height="1.6" fill="#3a1512"/>
<rect x="104.9" y="8.4" width="5.2" height="4.8" fill="#b0131b"/>
<rect x="124.4" y="12.6" width="5.8" height="1.6" fill="#3a1512"/>
<rect x="124.8" y="8.4" width="5" height="4.8" fill="#b0131b"/>
<rect x="-4.4" y="34.5" width="152" height="2.4" fill="#c9c5bd"/>
<rect x="-3" y="36.9" width="150" height="4.4" fill="#6d6558"/>
<rect x="20.9" y="36.9" width="3.4" height="4.4" fill="#b9b5ad"/>
<rect x="53.7" y="36.9" width="3.4" height="4.4" fill="#b9b5ad"/>
<rect x="86.4" y="36.9" width="3.4" height="4.4" fill="#b9b5ad"/>
<rect x="119.2" y="36.9" width="3.4" height="4.4" fill="#b9b5ad"/>
<path d="M-8.8,44.5 L154.2,44.5 L152.5,69 L-7.2,69 Z" fill="url(#lowd)"/>
<path d="M2.9,44.7 L10.9,44.7 L9.3,47.6 L4.5,47.6 Z" fill="#7a7264"/>
<path d="M15.1,47 L18.4,54.4 L11.7,54.4 Z" fill="#d6d4d1" opacity="0.7"/>
<path d="M15.1,57.5 L19.1,68 L11.1,68 Z" fill="#d6d4d1" opacity="0.55"/>
<path d="M19.2,44.7 L27.2,44.7 L25.6,47.6 L20.8,47.6 Z" fill="#7a7264"/>
<path d="M31.4,47 L34.7,54.4 L28,54.4 Z" fill="#d6d4d1" opacity="0.7"/>
<path d="M31.4,57.5 L35.4,68 L27.4,68 Z" fill="#d6d4d1" opacity="0.55"/>
<path d="M35.5,44.7 L43.5,44.7 L41.9,47.6 L37.1,47.6 Z" fill="#7a7264"/>
<path d="M47.7,47 L51,54.4 L44.3,54.4 Z" fill="#d6d4d1" opacity="0.7"/>
<path d="M47.7,57.5 L51.7,68 L43.7,68 Z" fill="#d6d4d1" opacity="0.55"/>
<path d="M51.8,44.7 L59.8,44.7 L58.2,47.6 L53.4,47.6 Z" fill="#7a7264"/>
<path d="M64,47 L67.3,54.4 L60.6,54.4 Z" fill="#d6d4d1" opacity="0.7"/>
<path d="M64,57.5 L68,68 L60,68 Z" fill="#d6d4d1" opacity="0.55"/>
<path d="M68.1,44.7 L76.1,44.7 L74.5,47.6 L69.7,47.6 Z" fill="#7a7264"/>
<path d="M80.3,47 L83.6,54.4 L76.9,54.4 Z" fill="#d6d4d1" opacity="0.7"/>
<path d="M80.3,57.5 L84.3,68 L76.3,68 Z" fill="#d6d4d1" opacity="0.55"/>
<path d="M84.4,44.7 L92.4,44.7 L90.8,47.6 L86,47.6 Z" fill="#7a7264"/>
<path d="M96.6,47 L99.9,54.4 L93.2,54.4 Z" fill="#d6d4d1" opacity="0.7"/>
<path d="M96.6,57.5 L100.6,68 L92.6,68 Z" fill="#d6d4d1" opacity="0.55"/>
<path d="M100.7,44.7 L108.7,44.7 L107.1,47.6 L102.3,47.6 Z" fill="#7a7264"/>
<path d="M112.9,47 L116.2,54.4 L109.5,54.4 Z" fill="#d6d4d1" opacity="0.7"/>
<path d="M112.9,57.5 L116.9,68 L108.9,68 Z" fill="#d6d4d1" opacity="0.55"/>
<path d="M117,44.7 L125,44.7 L123.4,47.6 L118.6,47.6 Z" fill="#7a7264"/>
<path d="M129.2,47 L132.5,54.4 L125.8,54.4 Z" fill="#d6d4d1" opacity="0.7"/>
<path d="M129.2,57.5 L133.2,68 L125.2,68 Z" fill="#d6d4d1" opacity="0.55"/>
<path d="M133.3,44.7 L141.3,44.7 L139.7,47.6 L134.9,47.6 Z" fill="#7a7264"/>
<path d="M145.5,47 L148.8,54.4 L142.1,54.4 Z" fill="#d6d4d1" opacity="0.7"/>
<path d="M145.5,57.5 L149.5,68 L141.5,68 Z" fill="#d6d4d1" opacity="0.55"/>
<rect x="-15.1" y="41.3" width="173.8" height="3.4" fill="#bdb9b1"/>
<rect x="-11.3" y="54.4" width="167" height="2.5" fill="#bdbab4"/>
<rect x="-15.7" y="68.2" width="174.4" height="4.4" fill="#9c9a94"/>
<rect x="-9.5" y="72.6" width="163" height="4.6" fill="#66594a"/>
<rect x="149" y="72.8" width="8" height="4.2" fill="#bfbbb3"/>
<rect x="-18.3" y="77" width="179.5" height="3.4" fill="#bfbbb3"/>
<rect x="-28.3" y="70.7" width="10" height="11.9" rx="1.5" fill="#c6c1ba"/>
<rect x="-18.9" y="48" width="3.2" height="39.6" rx="1" fill="#b3161f"/>
<rect x="159.2" y="48" width="3.2" height="39.6" rx="1" fill="#b3161f"/>
<path d="M-17.5,78 L-20.8,88 L-16.5,88 Z" fill="#b3161f"/>
</g>
<defs><linearGradient id="lidb" x1="0" y1="0" x2="0" y2="1"><stop offset="0" stop-color="#da121b"/><stop offset="0.5" stop-color="#da121b"/><stop offset="1" stop-color="#b0131b"/></linearGradient><linearGradient id="hopb" x1="0" y1="0" x2="0" y2="1"><stop offset="0" stop-color="#83868a"/><stop offset="1" stop-color="#9ea3a7"/></linearGradient><linearGradient id="sdb" x1="0" y1="0" x2="1" y2="0"><stop offset="0" stop-color="#9ea3a7" stop-opacity="0"/><stop offset="1" stop-color="#b9bdc0"/></linearGradient><linearGradient id="cwb" x1="0" y1="0" x2="0" y2="1"><stop offset="0" stop-color="#d0cdc8"/><stop offset="1" stop-color="#a79e94"/></linearGradient><linearGradient id="whb" x1="0" y1="0" x2="0" y2="1"><stop offset="0" stop-color="#cbc8c3"/><stop offset="1" stop-color="#b3aca4"/></linearGradient><linearGradient id="lowb" x1="0" y1="0" x2="1" y2="0"><stop offset="0" stop-color="#bfc1c2"/><stop offset="0.5" stop-color="#d4d5d6"/><stop offset="1" stop-color="#bfc1c2"/></linearGradient><linearGradient id="frb" x1="0" y1="0" x2="0" y2="1"><stop offset="0" stop-color="#5f1610"/><stop offset="0.25" stop-color="#7f2019"/><stop offset="1" stop-color="#711d17"/></linearGradient><linearGradient id="bdb" x1="0" y1="0" x2="1" y2="0"><stop offset="0" stop-color="#6c6e6d"/><stop offset="0.22" stop-color="#9fa2a1"/><stop offset="0.5" stop-color="#c8cac9"/><stop offset="0.8" stop-color="#9fa2a1"/><stop offset="1" stop-color="#6c6e6d"/></linearGradient></defs>
<g transform="translate(277.6,126.5) rotate(-16) scale(0.986,0.975)">
<rect x="-5.7" y="79.6" width="3.2" height="5.4" fill="#3f9a92"/>
<rect x="54.9" y="79.6" width="1.8" height="5.2" fill="#5f1610"/>
<rect x="71.1" y="79.6" width="1.8" height="5.2" fill="#5f1610"/>
<rect x="113.5" y="79.6" width="1.8" height="5.2" fill="#5f1610"/>
<rect x="-18.3" y="84.4" width="181.5" height="11.6" fill="url(#frb)"/>
<rect x="4.9" y="95.5" width="3.6" height="8.6" fill="#5f1610"/>
<rect x="69.2" y="95.5" width="1.6" height="8.6" fill="#5f1610"/>
<rect x="73.4" y="95.5" width="1.6" height="8.6" fill="#5f1610"/>
<rect x="133.5" y="95.5" width="3.6" height="8.6" fill="#5f1610"/>
<rect x="-18.3" y="103.6" width="181.5" height="13.2" fill="url(#frb)"/>
<rect x="-15" y="109" width="7" height="2.2" fill="#a83a4c" opacity="0.8"/>
<rect x="23" y="109" width="13" height="2.2" fill="#a83a4c" opacity="0.8"/>
<rect x="52" y="109" width="8" height="2.2" fill="#a83a4c" opacity="0.8"/>
<rect x="60" y="109" width="5" height="2.2" fill="#a83a4c" opacity="0.8"/>
<rect x="82" y="109" width="12" height="2.2" fill="#a83a4c" opacity="0.8"/>
<rect x="110" y="109" width="9" height="2.2" fill="#a83a4c" opacity="0.8"/>
<rect x="140" y="109" width="10" height="2.2" fill="#a83a4c" opacity="0.8"/>
<rect x="-19.8" y="102" width="2.6" height="13" fill="#b3161f"/>
<path d="M5.3,103.4 Q5.3,102 6.7,102 L17.3,102 Q18.7,102 18.7,103.4 L17.5,148.6 Q17.3,151.8 14.3,151.8 L9.7,151.8 Q6.7,151.8 6.5,148.6 Z" fill="url(#whb)"/>
<rect x="13.9" y="104.2" width="4.6" height="0.9" fill="#a39d96"/>
<rect x="13.9" y="106.3" width="4.6" height="0.9" fill="#a39d96"/>
<rect x="13.9" y="108.4" width="4.6" height="0.9" fill="#a39d96"/>
<rect x="13.9" y="110.5" width="4.6" height="0.9" fill="#a39d96"/>
<rect x="13.9" y="112.6" width="4.6" height="0.9" fill="#a39d96"/>
<rect x="13.9" y="114.7" width="4.6" height="0.9" fill="#a39d96"/>
<rect x="13.9" y="116.8" width="4.6" height="0.9" fill="#a39d96"/>
<rect x="13.9" y="118.9" width="4.6" height="0.9" fill="#a39d96"/>
<rect x="13.9" y="121" width="4.6" height="0.9" fill="#a39d96"/>
<path d="M122.6,103.4 Q122.6,102 124,102 L134.6,102 Q136,102 136,103.4 L134.8,148.6 Q134.6,151.8 131.6,151.8 L127,151.8 Q124,151.8 123.8,148.6 Z" fill="url(#whb)"/>
<rect x="131.2" y="104.2" width="4.6" height="0.9" fill="#a39d96"/>
<rect x="131.2" y="106.3" width="4.6" height="0.9" fill="#a39d96"/>
<rect x="131.2" y="108.4" width="4.6" height="0.9" fill="#a39d96"/>
<rect x="131.2" y="110.5" width="4.6" height="0.9" fill="#a39d96"/>
<rect x="131.2" y="112.6" width="4.6" height="0.9" fill="#a39d96"/>
<rect x="131.2" y="114.7" width="4.6" height="0.9" fill="#a39d96"/>
<rect x="131.2" y="116.8" width="4.6" height="0.9" fill="#a39d96"/>
<rect x="131.2" y="118.9" width="4.6" height="0.9" fill="#a39d96"/>
<rect x="131.2" y="121" width="4.6" height="0.9" fill="#a39d96"/>
<rect x="-11.5" y="120.6" width="9.8" height="25.6" rx="2.6" fill="url(#cwb)"/>
<rect x="3.9" y="121.6" width="8" height="24.4" rx="2.6" fill="url(#cwb)"/>
<path d="M-5.5,94 L6.3,94 L7.5,101 L7.7,108 L4.9,113 L4.3,121 L-3.7,121 L-4.1,113 L-6.1,108 Z" fill="url(#bdb)"/>
<rect x="-1.7" y="97" width="3.8" height="14" fill="#c8cac9"/>
<rect x="-2.8" y="97" width="0.9" height="13" fill="#6c6e6d"/><rect x="2.3" y="97" width="0.9" height="13" fill="#6c6e6d"/>
<path d="M6.3,100 L9.9,102.4 L7.5,105.8 Z" fill="#9fa2a1"/>
<rect x="-3.9" y="89.8" width="8.4" height="4.8" fill="#2c2722"/>
<rect x="-0.9" y="90.4" width="2.4" height="3.4" fill="#8d8d8b"/>
<path d="M-3.5,117 L4.3,117 L4.7,127 L4.5,131 L3.3,141 L1.3,146 L-0.9,146 L-2.7,141 L-3.9,131 L-4.1,127 Z" fill="#2e3424"/>
<rect x="-1.3" y="113.6" width="3.2" height="3.2" fill="#3f9a92"/>
<path d="M-5.3,127.6 L-2.1,126.4 L-2.3,130.4 Z M5.9,127.6 L2.7,126.4 L2.9,130.4 Z" fill="#3f9a92"/>
<rect x="-8.3" y="134" width="1.8" height="2.6" fill="#3f9a92" opacity="0.8"/><rect x="7.3" y="134" width="1.8" height="2.6" fill="#3f9a92" opacity="0.8"/>
<path d="M-7.1,128.6 L-2.3,146.4 M7.7,128.6 L3.1,145.6" stroke="#e4e2de" stroke-width="1.3" fill="none"/>
<rect x="-2.9" y="128.2" width="6.6" height="1.4" fill="#e4e2de" opacity="0.9"/>
<rect x="-1.3" y="133.6" width="3.2" height="1" fill="#e4e2de" opacity="0.5"/>
<path d="M-0.9,141 L1.3,141 L0.8,154.2 L-0.4,154.2 Z" fill="#2b2521"/>
<rect x="17.75" y="120.6" width="9.8" height="25.6" rx="2.6" fill="url(#cwb)"/>
<rect x="33.15" y="121.6" width="8" height="24.4" rx="2.6" fill="url(#cwb)"/>
<path d="M23.75,94 L35.55,94 L36.75,101 L36.95,108 L34.15,113 L33.55,121 L25.55,121 L25.15,113 L23.15,108 Z" fill="url(#bdb)"/>
<rect x="27.55" y="97" width="3.8" height="14" fill="#c8cac9"/>
<rect x="26.45" y="97" width="0.9" height="13" fill="#6c6e6d"/><rect x="31.55" y="97" width="0.9" height="13" fill="#6c6e6d"/>
<path d="M35.55,100 L39.15,102.4 L36.75,105.8 Z" fill="#9fa2a1"/>
<rect x="25.35" y="89.8" width="8.4" height="4.8" fill="#2c2722"/>
<rect x="28.35" y="90.4" width="2.4" height="3.4" fill="#8d8d8b"/>
<path d="M25.75,117 L33.55,117 L33.95,127 L33.75,131 L32.55,141 L30.55,146 L28.35,146 L26.55,141 L25.35,131 L25.15,127 Z" fill="#45392e"/>
<path d="M22.15,128.6 L26.95,146.4 M36.95,128.6 L32.35,145.6" stroke="#e4e2de" stroke-width="1.3" fill="none"/>
<rect x="26.35" y="128.2" width="6.6" height="1.4" fill="#e4e2de" opacity="0.9"/>
<rect x="27.95" y="133.6" width="3.2" height="1" fill="#e4e2de" opacity="0.5"/>
<path d="M28.35,141 L30.55,141 L30.05,154.2 L28.85,154.2 Z" fill="#2b2521"/>
<rect x="47" y="120.6" width="9.8" height="25.6" rx="2.6" fill="url(#cwb)"/>
<rect x="62.4" y="121.6" width="8" height="24.4" rx="2.6" fill="url(#cwb)"/>
<path d="M53,94 L64.8,94 L66,101 L66.2,108 L63.4,113 L62.8,121 L54.8,121 L54.4,113 L52.4,108 Z" fill="url(#bdb)"/>
<rect x="56.8" y="97" width="3.8" height="14" fill="#c8cac9"/>
<rect x="55.7" y="97" width="0.9" height="13" fill="#6c6e6d"/><rect x="60.8" y="97" width="0.9" height="13" fill="#6c6e6d"/>
<path d="M64.8,100 L68.4,102.4 L66,105.8 Z" fill="#9fa2a1"/>
<rect x="54.6" y="89.8" width="8.4" height="4.8" fill="#2c2722"/>
<rect x="57.6" y="90.4" width="2.4" height="3.4" fill="#8d8d8b"/>
<path d="M55,117 L62.8,117 L63.2,127 L63,131 L61.8,141 L59.8,146 L57.6,146 L55.8,141 L54.6,131 L54.4,127 Z" fill="#2e3424"/>
<rect x="57.2" y="113.6" width="3.2" height="3.2" fill="#3f9a92"/>
<path d="M53.2,127.6 L56.4,126.4 L56.2,130.4 Z M64.4,127.6 L61.2,126.4 L61.4,130.4 Z" fill="#3f9a92"/>
<rect x="50.2" y="134" width="1.8" height="2.6" fill="#3f9a92" opacity="0.8"/><rect x="65.8" y="134" width="1.8" height="2.6" fill="#3f9a92" opacity="0.8"/>
<path d="M51.4,128.6 L56.2,146.4 M66.2,128.6 L61.6,145.6" stroke="#e4e2de" stroke-width="1.3" fill="none"/>
<rect x="55.6" y="128.2" width="6.6" height="1.4" fill="#e4e2de" opacity="0.9"/>
<rect x="57.2" y="133.6" width="3.2" height="1" fill="#e4e2de" opacity="0.5"/>
<path d="M57.6,141 L59.8,141 L59.3,154.2 L58.1,154.2 Z" fill="#2b2521"/>
<rect x="76.25" y="120.6" width="9.8" height="25.6" rx="2.6" fill="url(#cwb)"/>
<rect x="91.65" y="121.6" width="8" height="24.4" rx="2.6" fill="url(#cwb)"/>
<path d="M82.25,94 L94.05,94 L95.25,101 L95.45,108 L92.65,113 L92.05,121 L84.05,121 L83.65,113 L81.65,108 Z" fill="url(#bdb)"/>
<rect x="86.05" y="97" width="3.8" height="14" fill="#c8cac9"/>
<rect x="84.95" y="97" width="0.9" height="13" fill="#6c6e6d"/><rect x="90.05" y="97" width="0.9" height="13" fill="#6c6e6d"/>
<path d="M94.05,100 L97.65,102.4 L95.25,105.8 Z" fill="#9fa2a1"/>
<rect x="83.85" y="89.8" width="8.4" height="4.8" fill="#2c2722"/>
<rect x="86.85" y="90.4" width="2.4" height="3.4" fill="#8d8d8b"/>
<path d="M84.25,117 L92.05,117 L92.45,127 L92.25,131 L91.05,141 L89.05,146 L86.85,146 L85.05,141 L83.85,131 L83.65,127 Z" fill="#45392e"/>
<path d="M80.65,128.6 L85.45,146.4 M95.45,128.6 L90.85,145.6" stroke="#e4e2de" stroke-width="1.3" fill="none"/>
<rect x="84.85" y="128.2" width="6.6" height="1.4" fill="#e4e2de" opacity="0.9"/>
<rect x="86.45" y="133.6" width="3.2" height="1" fill="#e4e2de" opacity="0.5"/>
<path d="M86.85,141 L89.05,141 L88.55,154.2 L87.35,154.2 Z" fill="#2b2521"/>
<rect x="105.5" y="120.6" width="9.8" height="25.6" rx="2.6" fill="url(#cwb)"/>
<rect x="120.9" y="121.6" width="8" height="24.4" rx="2.6" fill="url(#cwb)"/>
<path d="M111.5,94 L123.3,94 L124.5,101 L124.7,108 L121.9,113 L121.3,121 L113.3,121 L112.9,113 L110.9,108 Z" fill="url(#bdb)"/>
<rect x="115.3" y="97" width="3.8" height="14" fill="#c8cac9"/>
<rect x="114.2" y="97" width="0.9" height="13" fill="#6c6e6d"/><rect x="119.3" y="97" width="0.9" height="13" fill="#6c6e6d"/>
<path d="M123.3,100 L126.9,102.4 L124.5,105.8 Z" fill="#9fa2a1"/>
<rect x="113.1" y="89.8" width="8.4" height="4.8" fill="#2c2722"/>
<rect x="116.1" y="90.4" width="2.4" height="3.4" fill="#8d8d8b"/>
<path d="M113.5,117 L121.3,117 L121.7,127 L121.5,131 L120.3,141 L118.3,146 L116.1,146 L114.3,141 L113.1,131 L112.9,127 Z" fill="#2e3424"/>
<rect x="115.7" y="113.6" width="3.2" height="3.2" fill="#3f9a92"/>
<path d="M111.7,127.6 L114.9,126.4 L114.7,130.4 Z M122.9,127.6 L119.7,126.4 L119.9,130.4 Z" fill="#3f9a92"/>
<rect x="108.7" y="134" width="1.8" height="2.6" fill="#3f9a92" opacity="0.8"/><rect x="124.3" y="134" width="1.8" height="2.6" fill="#3f9a92" opacity="0.8"/>
<path d="M109.9,128.6 L114.7,146.4 M124.7,128.6 L120.1,145.6" stroke="#e4e2de" stroke-width="1.3" fill="none"/>
<rect x="114.1" y="128.2" width="6.6" height="1.4" fill="#e4e2de" opacity="0.9"/>
<rect x="115.7" y="133.6" width="3.2" height="1" fill="#e4e2de" opacity="0.5"/>
<path d="M116.1,141 L118.3,141 L117.8,154.2 L116.6,154.2 Z" fill="#2b2521"/>
<rect x="134.75" y="120.6" width="9.8" height="25.6" rx="2.6" fill="url(#cwb)"/>
<rect x="150.15" y="121.6" width="8" height="24.4" rx="2.6" fill="url(#cwb)"/>
<path d="M140.75,94 L152.55,94 L153.75,101 L153.95,108 L151.15,113 L150.55,121 L142.55,121 L142.15,113 L140.15,108 Z" fill="url(#bdb)"/>
<rect x="144.55" y="97" width="3.8" height="14" fill="#c8cac9"/>
<rect x="143.45" y="97" width="0.9" height="13" fill="#6c6e6d"/><rect x="148.55" y="97" width="0.9" height="13" fill="#6c6e6d"/>
<path d="M152.55,100 L156.15,102.4 L153.75,105.8 Z" fill="#9fa2a1"/>
<rect x="142.35" y="89.8" width="8.4" height="4.8" fill="#2c2722"/>
<rect x="145.35" y="90.4" width="2.4" height="3.4" fill="#8d8d8b"/>
<path d="M142.75,117 L150.55,117 L150.95,127 L150.75,131 L149.55,141 L147.55,146 L145.35,146 L143.55,141 L142.35,131 L142.15,127 Z" fill="#45392e"/>
<path d="M139.15,128.6 L143.95,146.4 M153.95,128.6 L149.35,145.6" stroke="#e4e2de" stroke-width="1.3" fill="none"/>
<rect x="143.35" y="128.2" width="6.6" height="1.4" fill="#e4e2de" opacity="0.9"/>
<rect x="144.95" y="133.6" width="3.2" height="1" fill="#e4e2de" opacity="0.5"/>
<path d="M145.35,141 L147.55,141 L147.05,154.2 L145.85,154.2 Z" fill="#2b2521"/>
</g>
<g transform="translate(277.6,126.5) rotate(-16) scale(0.986,0.975)">
<rect x="-6.6" y="19.9" width="4.4" height="7.5" rx="1.4" fill="#cc1f29"/>
<rect x="145.6" y="19.9" width="4.4" height="7.5" rx="1.4" fill="#cc1f29"/>
<path d="M-3,22 L-13,44 M-9,46 L-16,70 M147,22 L157,44 M153,46 L160,70" stroke="#d6d2cb" stroke-width="0.8" fill="none"/>
<path d="M-3.4,27 L-8.4,44.6 L-4,44.6 L-2.6,34 Z M147.4,27 L153.6,44.6 L149,44.6 L146.8,34 Z" fill="#cbc6bd" opacity="0.7"/>
<path d="M0,7 L143.3,7 L147,34.6 L-3.2,34.6 Z" fill="url(#hopb)"/>
<path d="M120,7 L143.3,7 L147,34.6 L118,34.6 Z" fill="url(#sdb)"/>
<path d="M46.7,9 L46.7,34.6 M96.6,9 L96.6,34.6" stroke="#6a6a69" stroke-width="1"/>
<path d="M47.6,9 L47.6,34.6 M97.5,9 L97.5,34.6" stroke="#9ea3a7" stroke-width="0.8" opacity="0.9"/>
<path d="M6,27 Q30,27 46,20 M52,27 Q76,27 96,20 M102,27 Q126,27 143,20" stroke="#83868a" stroke-width="0.6" fill="none" opacity="0.8"/>
<path d="M-0.6,8.8 L-0.3,3.4 Q0,0.6 3.2,0.3 L43,0.3 Q46.2,0.6 46.5,3.4 L46.8,8.8 Z" fill="url(#lidb)"/>
<path d="M46.7,8.8 L47,3.4 Q47.3,0.6 50.5,0.3 L92.7,0.3 Q95.9,0.6 96.2,3.4 L96.5,8.8 Z" fill="url(#lidb)"/>
<path d="M96.7,8.8 L97,3.4 Q97.3,0.6 100.5,0.3 L140.1,0.3 Q143.3,0.6 143.6,3.4 L143.9,8.8 Z" fill="url(#lidb)"/>
<rect x="13.7" y="12.6" width="5.8" height="1.6" fill="#3a1512"/>
<rect x="14.1" y="8.4" width="5" height="4.8" fill="#b0131b"/>
<rect x="33.4" y="12.6" width="6" height="1.6" fill="#3a1512"/>
<rect x="33.8" y="8.4" width="5.2" height="4.8" fill="#b0131b"/>
<rect x="58.9" y="12.6" width="5.8" height="1.6" fill="#3a1512"/>
<rect x="59.3" y="8.4" width="5" height="4.8" fill="#b0131b"/>
<rect x="78.6" y="12.6" width="6" height="1.6" fill="#3a1512"/>
<rect x="79" y="8.4" width="5.2" height="4.8" fill="#b0131b"/>
<rect x="104.5" y="12.6" width="6" height="1.6" fill="#3a1512"/>
<rect x="104.9" y="8.4" width="5.2" height="4.8" fill="#b0131b"/>
<rect x="124.4" y="12.6" width="5.8" height="1.6" fill="#3a1512"/>
<rect x="124.8" y="8.4" width="5" height="4.8" fill="#b0131b"/>
<rect x="-4.4" y="34.5" width="152" height="2.4" fill="#cbc6bd"/>
<rect x="-3" y="36.9" width="150" height="4.4" fill="#7d766a"/>
<rect x="20.9" y="36.9" width="3.4" height="4.4" fill="#b9b5ad"/>
<rect x="53.7" y="36.9" width="3.4" height="4.4" fill="#b9b5ad"/>
<rect x="86.4" y="36.9" width="3.4" height="4.4" fill="#b9b5ad"/>
<rect x="119.2" y="36.9" width="3.4" height="4.4" fill="#b9b5ad"/>
<path d="M-8.8,44.5 L154.2,44.5 L152.5,69 L-7.2,69 Z" fill="url(#lowb)"/>
<path d="M2.9,44.7 L10.9,44.7 L9.3,47.6 L4.5,47.6 Z" fill="#8d867a"/>
<path d="M15.1,47 L18.4,54.4 L11.7,54.4 Z" fill="#e2e3e4" opacity="0.7"/>
<path d="M15.1,57.5 L19.1,68 L11.1,68 Z" fill="#e2e3e4" opacity="0.55"/>
<path d="M19.2,44.7 L27.2,44.7 L25.6,47.6 L20.8,47.6 Z" fill="#8d867a"/>
<path d="M31.4,47 L34.7,54.4 L28,54.4 Z" fill="#e2e3e4" opacity="0.7"/>
<path d="M31.4,57.5 L35.4,68 L27.4,68 Z" fill="#e2e3e4" opacity="0.55"/>
<path d="M35.5,44.7 L43.5,44.7 L41.9,47.6 L37.1,47.6 Z" fill="#8d867a"/>
<path d="M47.7,47 L51,54.4 L44.3,54.4 Z" fill="#e2e3e4" opacity="0.7"/>
<path d="M47.7,57.5 L51.7,68 L43.7,68 Z" fill="#e2e3e4" opacity="0.55"/>
<path d="M51.8,44.7 L59.8,44.7 L58.2,47.6 L53.4,47.6 Z" fill="#8d867a"/>
<path d="M64,47 L67.3,54.4 L60.6,54.4 Z" fill="#e2e3e4" opacity="0.7"/>
<path d="M64,57.5 L68,68 L60,68 Z" fill="#e2e3e4" opacity="0.55"/>
<path d="M68.1,44.7 L76.1,44.7 L74.5,47.6 L69.7,47.6 Z" fill="#8d867a"/>
<path d="M80.3,47 L83.6,54.4 L76.9,54.4 Z" fill="#e2e3e4" opacity="0.7"/>
<path d="M80.3,57.5 L84.3,68 L76.3,68 Z" fill="#e2e3e4" opacity="0.55"/>
<path d="M84.4,44.7 L92.4,44.7 L90.8,47.6 L86,47.6 Z" fill="#8d867a"/>
<path d="M96.6,47 L99.9,54.4 L93.2,54.4 Z" fill="#e2e3e4" opacity="0.7"/>
<path d="M96.6,57.5 L100.6,68 L92.6,68 Z" fill="#e2e3e4" opacity="0.55"/>
<path d="M100.7,44.7 L108.7,44.7 L107.1,47.6 L102.3,47.6 Z" fill="#8d867a"/>
<path d="M112.9,47 L116.2,54.4 L109.5,54.4 Z" fill="#e2e3e4" opacity="0.7"/>
<path d="M112.9,57.5 L116.9,68 L108.9,68 Z" fill="#e2e3e4" opacity="0.55"/>
<path d="M117,44.7 L125,44.7 L123.4,47.6 L118.6,47.6 Z" fill="#8d867a"/>
<path d="M129.2,47 L132.5,54.4 L125.8,54.4 Z" fill="#e2e3e4" opacity="0.7"/>
<path d="M129.2,57.5 L133.2,68 L125.2,68 Z" fill="#e2e3e4" opacity="0.55"/>
<path d="M133.3,44.7 L141.3,44.7 L139.7,47.6 L134.9,47.6 Z" fill="#8d867a"/>
<path d="M145.5,47 L148.8,54.4 L142.1,54.4 Z" fill="#e2e3e4" opacity="0.7"/>
<path d="M145.5,57.5 L149.5,68 L141.5,68 Z" fill="#e2e3e4" opacity="0.55"/>
<rect x="-15.1" y="41.3" width="173.8" height="3.4" fill="#c3beb5"/>
<rect x="-11.3" y="54.4" width="167" height="2.5" fill="#c2c1be"/>
<rect x="-15.7" y="68.2" width="174.4" height="4.4" fill="#a9a7a4"/>
<rect x="-9.5" y="72.6" width="163" height="4.6" fill="#9d948b"/>
<rect x="149" y="72.8" width="8" height="4.2" fill="#d6d3ce"/>
<rect x="-18.3" y="77" width="179.5" height="3.4" fill="#d6d3ce"/>
<rect x="-28.3" y="70.7" width="10" height="11.9" rx="1.5" fill="#c6c1ba"/>
<rect x="162" y="66" width="9.5" height="11.5" rx="2" fill="#dddbd8"/>
<path d="M160.5,76 L167,80 L166,92 L161,90 Z" fill="#b3161f"/>
<rect x="-18.9" y="48" width="3.2" height="39.6" rx="1" fill="#b3161f"/>
<rect x="159.2" y="48" width="3.2" height="39.6" rx="1" fill="#b3161f"/>
<path d="M-17.5,78 L-20.8,88 L-16.5,88 Z" fill="#b3161f"/>
</g>
<defs><linearGradient id="lida" x1="0" y1="0" x2="0" y2="1"><stop offset="0" stop-color="#da121b"/><stop offset="0.5" stop-color="#da121b"/><stop offset="1" stop-color="#b0131b"/></linearGradient><linearGradient id="hopa" x1="0" y1="0" x2="0" y2="1"><stop offset="0" stop-color="#767674"/><stop offset="1" stop-color="#8b8b89"/></linearGradient><linearGradient id="sda" x1="0" y1="0" x2="1" y2="0"><stop offset="0" stop-color="#8b8b89" stop-opacity="0"/><stop offset="1" stop-color="#8b8b89"/></linearGradient><linearGradient id="cwa" x1="0" y1="0" x2="0" y2="1"><stop offset="0" stop-color="#7d7971"/><stop offset="1" stop-color="#9b8c7e"/></linearGradient><linearGradient id="wha" x1="0" y1="0" x2="0" y2="1"><stop offset="0" stop-color="#aca297"/><stop offset="1" stop-color="#9a887b"/></linearGradient><linearGradient id="lowa" x1="0" y1="0" x2="1" y2="0"><stop offset="0" stop-color="#a3a09a"/><stop offset="0.5" stop-color="#b0ada7"/><stop offset="1" stop-color="#a3a09a"/></linearGradient><linearGradient id="fra" x1="0" y1="0" x2="0" y2="1"><stop offset="0" stop-color="#57160f"/><stop offset="0.25" stop-color="#74201a"/><stop offset="1" stop-color="#651a15"/></linearGradient><linearGradient id="bda" x1="0" y1="0" x2="1" y2="0"><stop offset="0" stop-color="#4f5150"/><stop offset="0.22" stop-color="#7f8281"/><stop offset="0.5" stop-color="#9ea1a0"/><stop offset="0.8" stop-color="#7f8281"/><stop offset="1" stop-color="#4f5150"/></linearGradient></defs>
<g transform="translate(103.3,129)">
<rect x="-5.7" y="79.6" width="3.2" height="5.4" fill="#1f5a4e"/>
<rect x="54.9" y="79.6" width="1.8" height="5.2" fill="#57160f"/>
<rect x="71.1" y="79.6" width="1.8" height="5.2" fill="#57160f"/>
<rect x="113.5" y="79.6" width="1.8" height="5.2" fill="#57160f"/>
<rect x="-18.3" y="84.4" width="181.5" height="11.6" fill="url(#fra)"/>
<rect x="4.9" y="95.5" width="3.6" height="8.6" fill="#57160f"/>
<rect x="69.2" y="95.5" width="1.6" height="8.6" fill="#57160f"/>
<rect x="73.4" y="95.5" width="1.6" height="8.6" fill="#57160f"/>
<rect x="133.5" y="95.5" width="3.6" height="8.6" fill="#57160f"/>
<rect x="-18.3" y="103.6" width="181.5" height="13.2" fill="url(#fra)"/>
<rect x="-15" y="109" width="7" height="2.2" fill="#9a2c48" opacity="0.8"/>
<rect x="23" y="109" width="13" height="2.2" fill="#9a2c48" opacity="0.8"/>
<rect x="52" y="109" width="8" height="2.2" fill="#9a2c48" opacity="0.8"/>
<rect x="60" y="109" width="5" height="2.2" fill="#9a2c48" opacity="0.8"/>
<rect x="82" y="109" width="12" height="2.2" fill="#9a2c48" opacity="0.8"/>
<rect x="110" y="109" width="9" height="2.2" fill="#9a2c48" opacity="0.8"/>
<rect x="140" y="109" width="10" height="2.2" fill="#9a2c48" opacity="0.8"/>
<rect x="-19.8" y="102" width="2.6" height="13" fill="#b3161f"/>
<path d="M5.3,103.4 Q5.3,102 6.7,102 L17.3,102 Q18.7,102 18.7,103.4 L17.5,148.6 Q17.3,151.8 14.3,151.8 L9.7,151.8 Q6.7,151.8 6.5,148.6 Z" fill="url(#wha)"/>
<rect x="13.9" y="104.2" width="4.6" height="0.9" fill="#8f8378"/>
<rect x="13.9" y="106.3" width="4.6" height="0.9" fill="#8f8378"/>
<rect x="13.9" y="108.4" width="4.6" height="0.9" fill="#8f8378"/>
<rect x="13.9" y="110.5" width="4.6" height="0.9" fill="#8f8378"/>
<rect x="13.9" y="112.6" width="4.6" height="0.9" fill="#8f8378"/>
<rect x="13.9" y="114.7" width="4.6" height="0.9" fill="#8f8378"/>
<rect x="13.9" y="116.8" width="4.6" height="0.9" fill="#8f8378"/>
<rect x="13.9" y="118.9" width="4.6" height="0.9" fill="#8f8378"/>
<rect x="13.9" y="121" width="4.6" height="0.9" fill="#8f8378"/>
<path d="M122.6,103.4 Q122.6,102 124,102 L134.6,102 Q136,102 136,103.4 L134.8,148.6 Q134.6,151.8 131.6,151.8 L127,151.8 Q124,151.8 123.8,148.6 Z" fill="url(#wha)"/>
<rect x="131.2" y="104.2" width="4.6" height="0.9" fill="#8f8378"/>
<rect x="131.2" y="106.3" width="4.6" height="0.9" fill="#8f8378"/>
<rect x="131.2" y="108.4" width="4.6" height="0.9" fill="#8f8378"/>
<rect x="131.2" y="110.5" width="4.6" height="0.9" fill="#8f8378"/>
<rect x="131.2" y="112.6" width="4.6" height="0.9" fill="#8f8378"/>
<rect x="131.2" y="114.7" width="4.6" height="0.9" fill="#8f8378"/>
<rect x="131.2" y="116.8" width="4.6" height="0.9" fill="#8f8378"/>
<rect x="131.2" y="118.9" width="4.6" height="0.9" fill="#8f8378"/>
<rect x="131.2" y="121" width="4.6" height="0.9" fill="#8f8378"/>
<rect x="-14.5" y="120.6" width="9.8" height="25.6" rx="2.6" fill="url(#cwa)"/>
<rect x="0.9" y="121.6" width="8" height="24.4" rx="2.6" fill="url(#cwa)"/>
<path d="M-8.5,94 L3.3,94 L4.5,101 L4.7,108 L1.9,113 L1.3,121 L-6.7,121 L-7.1,113 L-9.1,108 Z" fill="url(#bda)"/>
<rect x="-4.7" y="97" width="3.8" height="14" fill="#9ea1a0"/>
<rect x="-5.8" y="97" width="0.9" height="13" fill="#4f5150"/><rect x="-0.7" y="97" width="0.9" height="13" fill="#4f5150"/>
<path d="M3.3,100 L6.9,102.4 L4.5,105.8 Z" fill="#7f8281"/>
<rect x="-6.9" y="89.8" width="8.4" height="4.8" fill="#2c2722"/>
<rect x="-3.9" y="90.4" width="2.4" height="3.4" fill="#8d8d8b"/>
<path d="M-6.5,117 L1.3,117 L1.7,127 L1.5,131 L0.3,141 L-1.7,146 L-3.9,146 L-5.7,141 L-6.9,131 L-7.1,127 Z" fill="#4a3c30"/>
<path d="M-10.1,128.6 L-5.3,146.4 M4.7,128.6 L0.1,145.6" stroke="#bbb7af" stroke-width="1.3" fill="none"/>
<rect x="-5.9" y="128.2" width="6.6" height="1.4" fill="#bbb7af" opacity="0.9"/>
<rect x="-4.3" y="133.6" width="3.2" height="1" fill="#bbb7af" opacity="0.5"/>
<path d="M-3.9,141 L-1.7,141 L-2.2,154.2 L-3.4,154.2 Z" fill="#2b2521"/>
<rect x="14.75" y="120.6" width="9.8" height="25.6" rx="2.6" fill="url(#cwa)"/>
<rect x="30.15" y="121.6" width="8" height="24.4" rx="2.6" fill="url(#cwa)"/>
<path d="M20.75,94 L32.55,94 L33.75,101 L33.95,108 L31.15,113 L30.55,121 L22.55,121 L22.15,113 L20.15,108 Z" fill="url(#bda)"/>
<rect x="24.55" y="97" width="3.8" height="14" fill="#9ea1a0"/>
<rect x="23.45" y="97" width="0.9" height="13" fill="#4f5150"/><rect x="28.55" y="97" width="0.9" height="13" fill="#4f5150"/>
<path d="M32.55,100 L36.15,102.4 L33.75,105.8 Z" fill="#7f8281"/>
<rect x="22.35" y="89.8" width="8.4" height="4.8" fill="#2c2722"/>
<rect x="25.35" y="90.4" width="2.4" height="3.4" fill="#8d8d8b"/>
<path d="M22.75,117 L30.55,117 L30.95,127 L30.75,131 L29.55,141 L27.55,146 L25.35,146 L23.55,141 L22.35,131 L22.15,127 Z" fill="#4a3c30"/>
<path d="M19.15,128.6 L23.95,146.4 M33.95,128.6 L29.35,145.6" stroke="#bbb7af" stroke-width="1.3" fill="none"/>
<rect x="23.35" y="128.2" width="6.6" height="1.4" fill="#bbb7af" opacity="0.9"/>
<rect x="24.95" y="133.6" width="3.2" height="1" fill="#bbb7af" opacity="0.5"/>
<path d="M25.35,141 L27.55,141 L27.05,154.2 L25.85,154.2 Z" fill="#2b2521"/>
<rect x="44" y="120.6" width="9.8" height="25.6" rx="2.6" fill="url(#cwa)"/>
<rect x="59.4" y="121.6" width="8" height="24.4" rx="2.6" fill="url(#cwa)"/>
<path d="M50,94 L61.8,94 L63,101 L63.2,108 L60.4,113 L59.8,121 L51.8,121 L51.4,113 L49.4,108 Z" fill="url(#bda)"/>
<rect x="53.8" y="97" width="3.8" height="14" fill="#9ea1a0"/>
<rect x="52.7" y="97" width="0.9" height="13" fill="#4f5150"/><rect x="57.8" y="97" width="0.9" height="13" fill="#4f5150"/>
<path d="M61.8,100 L65.4,102.4 L63,105.8 Z" fill="#7f8281"/>
<rect x="51.6" y="89.8" width="8.4" height="4.8" fill="#2c2722"/>
<rect x="54.6" y="90.4" width="2.4" height="3.4" fill="#8d8d8b"/>
<path d="M52,117 L59.8,117 L60.2,127 L60,131 L58.8,141 L56.8,146 L54.6,146 L52.8,141 L51.6,131 L51.4,127 Z" fill="#4a3c30"/>
<path d="M48.4,128.6 L53.2,146.4 M63.2,128.6 L58.6,145.6" stroke="#bbb7af" stroke-width="1.3" fill="none"/>
<rect x="52.6" y="128.2" width="6.6" height="1.4" fill="#bbb7af" opacity="0.9"/>
<rect x="54.2" y="133.6" width="3.2" height="1" fill="#bbb7af" opacity="0.5"/>
<path d="M54.6,141 L56.8,141 L56.3,154.2 L55.1,154.2 Z" fill="#2b2521"/>
<rect x="73.25" y="120.6" width="9.8" height="25.6" rx="2.6" fill="url(#cwa)"/>
<rect x="88.65" y="121.6" width="8" height="24.4" rx="2.6" fill="url(#cwa)"/>
<path d="M79.25,94 L91.05,94 L92.25,101 L92.45,108 L89.65,113 L89.05,121 L81.05,121 L80.65,113 L78.65,108 Z" fill="url(#bda)"/>
<rect x="83.05" y="97" width="3.8" height="14" fill="#9ea1a0"/>
<rect x="81.95" y="97" width="0.9" height="13" fill="#4f5150"/><rect x="87.05" y="97" width="0.9" height="13" fill="#4f5150"/>
<path d="M91.05,100 L94.65,102.4 L92.25,105.8 Z" fill="#7f8281"/>
<rect x="80.85" y="89.8" width="8.4" height="4.8" fill="#2c2722"/>
<rect x="83.85" y="90.4" width="2.4" height="3.4" fill="#8d8d8b"/>
<path d="M81.25,117 L89.05,117 L89.45,127 L89.25,131 L88.05,141 L86.05,146 L83.85,146 L82.05,141 L80.85,131 L80.65,127 Z" fill="#4a3c30"/>
<path d="M77.65,128.6 L82.45,146.4 M92.45,128.6 L87.85,145.6" stroke="#bbb7af" stroke-width="1.3" fill="none"/>
<rect x="81.85" y="128.2" width="6.6" height="1.4" fill="#bbb7af" opacity="0.9"/>
<rect x="83.45" y="133.6" width="3.2" height="1" fill="#bbb7af" opacity="0.5"/>
<path d="M83.85,141 L86.05,141 L85.55,154.2 L84.35,154.2 Z" fill="#2b2521"/>
<rect x="102.5" y="120.6" width="9.8" height="25.6" rx="2.6" fill="url(#cwa)"/>
<rect x="117.9" y="121.6" width="8" height="24.4" rx="2.6" fill="url(#cwa)"/>
<path d="M108.5,94 L120.3,94 L121.5,101 L121.7,108 L118.9,113 L118.3,121 L110.3,121 L109.9,113 L107.9,108 Z" fill="url(#bda)"/>
<rect x="112.3" y="97" width="3.8" height="14" fill="#9ea1a0"/>
<rect x="111.2" y="97" width="0.9" height="13" fill="#4f5150"/><rect x="116.3" y="97" width="0.9" height="13" fill="#4f5150"/>
<path d="M120.3,100 L123.9,102.4 L121.5,105.8 Z" fill="#7f8281"/>
<rect x="110.1" y="89.8" width="8.4" height="4.8" fill="#2c2722"/>
<rect x="113.1" y="90.4" width="2.4" height="3.4" fill="#8d8d8b"/>
<path d="M110.5,117 L118.3,117 L118.7,127 L118.5,131 L117.3,141 L115.3,146 L113.1,146 L111.3,141 L110.1,131 L109.9,127 Z" fill="#4a3c30"/>
<path d="M106.9,128.6 L111.7,146.4 M121.7,128.6 L117.1,145.6" stroke="#bbb7af" stroke-width="1.3" fill="none"/>
<rect x="111.1" y="128.2" width="6.6" height="1.4" fill="#bbb7af" opacity="0.9"/>
<rect x="112.7" y="133.6" width="3.2" height="1" fill="#bbb7af" opacity="0.5"/>
<path d="M113.1,141 L115.3,141 L114.8,154.2 L113.6,154.2 Z" fill="#2b2521"/>
<rect x="131.75" y="120.6" width="9.8" height="25.6" rx="2.6" fill="url(#cwa)"/>
<rect x="147.15" y="121.6" width="8" height="24.4" rx="2.6" fill="url(#cwa)"/>
<path d="M137.75,94 L149.55,94 L150.75,101 L150.95,108 L148.15,113 L147.55,121 L139.55,121 L139.15,113 L137.15,108 Z" fill="url(#bda)"/>
<rect x="141.55" y="97" width="3.8" height="14" fill="#9ea1a0"/>
<rect x="140.45" y="97" width="0.9" height="13" fill="#4f5150"/><rect x="145.55" y="97" width="0.9" height="13" fill="#4f5150"/>
<path d="M149.55,100 L153.15,102.4 L150.75,105.8 Z" fill="#7f8281"/>
<rect x="139.35" y="89.8" width="8.4" height="4.8" fill="#2c2722"/>
<rect x="142.35" y="90.4" width="2.4" height="3.4" fill="#8d8d8b"/>
<path d="M139.75,117 L147.55,117 L147.95,127 L147.75,131 L146.55,141 L144.55,146 L142.35,146 L140.55,141 L139.35,131 L139.15,127 Z" fill="#4a3c30"/>
<path d="M136.15,128.6 L140.95,146.4 M150.95,128.6 L146.35,145.6" stroke="#bbb7af" stroke-width="1.3" fill="none"/>
<rect x="140.35" y="128.2" width="6.6" height="1.4" fill="#bbb7af" opacity="0.9"/>
<rect x="141.95" y="133.6" width="3.2" height="1" fill="#bbb7af" opacity="0.5"/>
<path d="M142.35,141 L144.55,141 L144.05,154.2 L142.85,154.2 Z" fill="#2b2521"/>
<rect x="161" y="120.6" width="9.8" height="25.6" rx="2.6" fill="url(#cwa)"/>
<rect x="176.4" y="121.6" width="8" height="24.4" rx="2.6" fill="url(#cwa)"/>
<path d="M167,94 L178.8,94 L180,101 L180.2,108 L177.4,113 L176.8,121 L168.8,121 L168.4,113 L166.4,108 Z" fill="url(#bda)"/>
<rect x="170.8" y="97" width="3.8" height="14" fill="#9ea1a0"/>
<rect x="169.7" y="97" width="0.9" height="13" fill="#4f5150"/><rect x="174.8" y="97" width="0.9" height="13" fill="#4f5150"/>
<path d="M178.8,100 L182.4,102.4 L180,105.8 Z" fill="#7f8281"/>
<rect x="168.6" y="89.8" width="8.4" height="4.8" fill="#2c2722"/>
<rect x="171.6" y="90.4" width="2.4" height="3.4" fill="#8d8d8b"/>
<path d="M169,117 L176.8,117 L177.2,127 L177,131 L175.8,141 L173.8,146 L171.6,146 L169.8,141 L168.6,131 L168.4,127 Z" fill="#4a3c30"/>
<path d="M165.4,128.6 L170.2,146.4 M180.2,128.6 L175.6,145.6" stroke="#bbb7af" stroke-width="1.3" fill="none"/>
<rect x="169.6" y="128.2" width="6.6" height="1.4" fill="#bbb7af" opacity="0.9"/>
<rect x="171.2" y="133.6" width="3.2" height="1" fill="#bbb7af" opacity="0.5"/>
<path d="M171.6,141 L173.8,141 L173.3,154.2 L172.1,154.2 Z" fill="#2b2521"/>
</g>
<g transform="translate(103.3,129)">
<rect x="-6.6" y="19.9" width="4.4" height="7.5" rx="1.4" fill="#cc1f29"/>
<rect x="145.6" y="19.9" width="4.4" height="7.5" rx="1.4" fill="#cc1f29"/>
<path d="M-3,22 L-13,44 M-9,46 L-16,70 M147,22 L157,44 M153,46 L160,70" stroke="#d6d2cb" stroke-width="0.8" fill="none"/>
<path d="M-3.4,27 L-8.4,44.6 L-4,44.6 L-2.6,34 Z M147.4,27 L153.6,44.6 L149,44.6 L146.8,34 Z" fill="#c9c5bd" opacity="0.7"/>
<path d="M0,7 L143.3,7 L147,34.6 L-3.2,34.6 Z" fill="url(#hopa)"/>
<path d="M46.7,9 L46.7,34.6 M96.6,9 L96.6,34.6" stroke="#6a6a69" stroke-width="1"/>
<path d="M47.6,9 L47.6,34.6 M97.5,9 L97.5,34.6" stroke="#8b8b89" stroke-width="0.8" opacity="0.9"/>
<path d="M6,27 Q30,27 46,20 M52,27 Q76,27 96,20 M102,27 Q126,27 143,20" stroke="#767674" stroke-width="0.6" fill="none" opacity="0.8"/>
<path d="M-0.6,8.8 L-0.3,3.4 Q0,0.6 3.2,0.3 L43,0.3 Q46.2,0.6 46.5,3.4 L46.8,8.8 Z" fill="url(#lida)"/>
<path d="M46.7,8.8 L47,3.4 Q47.3,0.6 50.5,0.3 L92.7,0.3 Q95.9,0.6 96.2,3.4 L96.5,8.8 Z" fill="url(#lida)"/>
<path d="M96.7,8.8 L97,3.4 Q97.3,0.6 100.5,0.3 L140.1,0.3 Q143.3,0.6 143.6,3.4 L143.9,8.8 Z" fill="url(#lida)"/>
<rect x="13.7" y="12.6" width="5.8" height="1.6" fill="#3a1512"/>
<rect x="14.1" y="8.4" width="5" height="4.8" fill="#b0131b"/>
<rect x="33.4" y="12.6" width="6" height="1.6" fill="#3a1512"/>
<rect x="33.8" y="8.4" width="5.2" height="4.8" fill="#b0131b"/>
<rect x="58.9" y="12.6" width="5.8" height="1.6" fill="#3a1512"/>
<rect x="59.3" y="8.4" width="5" height="4.8" fill="#b0131b"/>
<rect x="78.6" y="12.6" width="6" height="1.6" fill="#3a1512"/>
<rect x="79" y="8.4" width="5.2" height="4.8" fill="#b0131b"/>
<rect x="104.5" y="12.6" width="6" height="1.6" fill="#3a1512"/>
<rect x="104.9" y="8.4" width="5.2" height="4.8" fill="#b0131b"/>
<rect x="124.4" y="12.6" width="5.8" height="1.6" fill="#3a1512"/>
<rect x="124.8" y="8.4" width="5" height="4.8" fill="#b0131b"/>
<rect x="-4.4" y="34.5" width="152" height="2.4" fill="#c9c5bd"/>
<rect x="-3" y="36.9" width="150" height="4.4" fill="#6d6558"/>
<rect x="20.9" y="36.9" width="3.4" height="4.4" fill="#b9b5ad"/>
<rect x="53.7" y="36.9" width="3.4" height="4.4" fill="#b9b5ad"/>
<rect x="86.4" y="36.9" width="3.4" height="4.4" fill="#b9b5ad"/>
<rect x="119.2" y="36.9" width="3.4" height="4.4" fill="#b9b5ad"/>
<path d="M-8.8,44.5 L154.2,44.5 L152.5,69 L-7.2,69 Z" fill="url(#lowa)"/>
<path d="M2.9,44.7 L10.9,44.7 L9.3,47.6 L4.5,47.6 Z" fill="#7a7264"/>
<path d="M15.1,47 L18.4,54.4 L11.7,54.4 Z" fill="#bab7b1" opacity="0.7"/>
<path d="M15.1,57.5 L19.1,68 L11.1,68 Z" fill="#bab7b1" opacity="0.55"/>
<path d="M19.2,44.7 L27.2,44.7 L25.6,47.6 L20.8,47.6 Z" fill="#7a7264"/>
<path d="M31.4,47 L34.7,54.4 L28,54.4 Z" fill="#bab7b1" opacity="0.7"/>
<path d="M31.4,57.5 L35.4,68 L27.4,68 Z" fill="#bab7b1" opacity="0.55"/>
<path d="M35.5,44.7 L43.5,44.7 L41.9,47.6 L37.1,47.6 Z" fill="#7a7264"/>
<path d="M47.7,47 L51,54.4 L44.3,54.4 Z" fill="#bab7b1" opacity="0.7"/>
<path d="M47.7,57.5 L51.7,68 L43.7,68 Z" fill="#bab7b1" opacity="0.55"/>
<path d="M51.8,44.7 L59.8,44.7 L58.2,47.6 L53.4,47.6 Z" fill="#7a7264"/>
<path d="M64,47 L67.3,54.4 L60.6,54.4 Z" fill="#bab7b1" opacity="0.7"/>
<path d="M64,57.5 L68,68 L60,68 Z" fill="#bab7b1" opacity="0.55"/>
<path d="M68.1,44.7 L76.1,44.7 L74.5,47.6 L69.7,47.6 Z" fill="#7a7264"/>
<path d="M80.3,47 L83.6,54.4 L76.9,54.4 Z" fill="#bab7b1" opacity="0.7"/>
<path d="M80.3,57.5 L84.3,68 L76.3,68 Z" fill="#bab7b1" opacity="0.55"/>
<path d="M84.4,44.7 L92.4,44.7 L90.8,47.6 L86,47.6 Z" fill="#7a7264"/>
<path d="M96.6,47 L99.9,54.4 L93.2,54.4 Z" fill="#bab7b1" opacity="0.7"/>
<path d="M96.6,57.5 L100.6,68 L92.6,68 Z" fill="#bab7b1" opacity="0.55"/>
<path d="M100.7,44.7 L108.7,44.7 L107.1,47.6 L102.3,47.6 Z" fill="#7a7264"/>
<path d="M112.9,47 L116.2,54.4 L109.5,54.4 Z" fill="#bab7b1" opacity="0.7"/>
<path d="M112.9,57.5 L116.9,68 L108.9,68 Z" fill="#bab7b1" opacity="0.55"/>
<path d="M117,44.7 L125,44.7 L123.4,47.6 L118.6,47.6 Z" fill="#7a7264"/>
<path d="M129.2,47 L132.5,54.4 L125.8,54.4 Z" fill="#bab7b1" opacity="0.7"/>
<path d="M129.2,57.5 L133.2,68 L125.2,68 Z" fill="#bab7b1" opacity="0.55"/>
<path d="M133.3,44.7 L141.3,44.7 L139.7,47.6 L134.9,47.6 Z" fill="#7a7264"/>
<path d="M145.5,47 L148.8,54.4 L142.1,54.4 Z" fill="#bab7b1" opacity="0.7"/>
<path d="M145.5,57.5 L149.5,68 L141.5,68 Z" fill="#bab7b1" opacity="0.55"/>
<rect x="-15.1" y="41.3" width="173.8" height="3.4" fill="#bdb9b1"/>
<rect x="-11.3" y="54.4" width="167" height="2.5" fill="#b8b5ae"/>
<rect x="-15.7" y="68.2" width="174.4" height="4.4" fill="#9c9a94"/>
<rect x="-9.5" y="72.6" width="163" height="4.6" fill="#66594a"/>
<rect x="149" y="72.8" width="8" height="4.2" fill="#bfbbb3"/>
<rect x="-18.3" y="77" width="179.5" height="3.4" fill="#bfbbb3"/>
<rect x="-28.3" y="70.7" width="10" height="11.9" rx="1.5" fill="#c6c1ba"/>
<rect x="-18.9" y="48" width="3.2" height="39.6" rx="1" fill="#b3161f"/>
<rect x="159.2" y="48" width="3.2" height="39.6" rx="1" fill="#b3161f"/>
<path d="M-17.5,78 L-20.8,88 L-16.5,88 Z" fill="#b3161f"/>
</g>
<!-- angle indicators -->
<path d="M468.3,282.6 L309.9,282.6 L468.3,232.2" fill="none" stroke="#e8392b" stroke-width="1.1"/>
<path d="M663,282.6 L835,287.4 L669.4,247.6" fill="none" stroke="#e8392b" stroke-width="1.1"/>
<!-- dotted rules -->
<line x1="69.45" y1="349.5" x2="452" y2="349.5" stroke="#e8232b" stroke-width="1.45" stroke-dasharray="0.1 1.9" stroke-linecap="round"/>
<line x1="578.45" y1="349.5" x2="961" y2="349.5" stroke="#e8232b" stroke-width="1.45" stroke-dasharray="0.1 1.9" stroke-linecap="round"/>
<!-- table lines -->
<line x1="220" y1="621.35" x2="778.6" y2="621.35" stroke="#3a3234" stroke-width="1.6"/>
<line x1="220" y1="652.15" x2="778.6" y2="652.15" stroke="#3a3234" stroke-width="1.7"/>
<line x1="220.5" y1="769" x2="778.6" y2="769" stroke="#e6505a" stroke-width="1.8"/>
<line x1="218.2" y1="694.3" x2="240.8" y2="694.3" stroke="#b4b4b4" stroke-width="1.0"/>
<line x1="266.4" y1="694.3" x2="397.5" y2="694.3" stroke="#b4b4b4" stroke-width="1.0"/>
<line x1="423.6" y1="694.3" x2="518" y2="694.3" stroke="#b4b4b4" stroke-width="1.0"/>
<line x1="545" y1="694.3" x2="639.5" y2="694.3" stroke="#b4b4b4" stroke-width="1.0"/>
<line x1="664.4" y1="694.3" x2="758.6" y2="694.3" stroke="#b4b4b4" stroke-width="1.0"/>
<line x1="218.2" y1="728.85" x2="240.8" y2="728.85" stroke="#c6c6c6" stroke-width="1.3"/>
<line x1="266.4" y1="728.85" x2="397.5" y2="728.85" stroke="#c6c6c6" stroke-width="1.3"/>
<line x1="423.6" y1="728.85" x2="518" y2="728.85" stroke="#c6c6c6" stroke-width="1.3"/>
<line x1="545" y1="728.85" x2="639.5" y2="728.85" stroke="#c6c6c6" stroke-width="1.3"/>
<line x1="664.4" y1="728.85" x2="758.6" y2="728.85" stroke="#c6c6c6" stroke-width="1.3"/>

<path d="M213.3,526.3 L213.3,566.2 L345,566.2 M391,566.2 L551,566.2" stroke="#e2e2e2" stroke-width="0.8" fill="none"/>
<path d="M475.4,401.7 L549.5,401.7 L549.5,464 M549.5,482 L549.5,541.8 L440,541.8" stroke="#e2e2e2" stroke-width="0.8" fill="none"/>
<path d="M228.5,506.6 L327.3,505.4 L327.3,514.9 L228.5,513.6" stroke="#333" stroke-width="0.55" fill="#fff"/>
<path d="M213.3,502.3 L223.6,503.5 L228.5,507.3 L228.5,513 L219,526.3 L213.3,526.3 Z" stroke="#333" stroke-width="0.55" fill="#fff"/>
<path d="M214.6,504 L214.6,525" stroke="#555" stroke-width="1" stroke-dasharray="0.6 1.4" fill="none"/>
<circle cx="222.4" cy="509.6" r="0.9" fill="#444"/>
<path d="M291.2,511 L296,495 Q298,492.8 300,495 L304.5,511 Z" stroke="#333" stroke-width="0.55" fill="#fff"/><circle cx="298" cy="497" r="1.2" stroke="#333" stroke-width="0.55" fill="none"/>
<path d="M315.9,505.4 L318,499.5 Q319.2,498.2 320.4,499.5 L322.3,505.4 Z" stroke="#333" stroke-width="0.55" fill="#fff"/>
<path d="M325,519.6 L421,519.6 M325,523.5 L412,523.5 M327,514.6 L346,519.6 M327,518 L346,523.5 M440,522.4 L458,522.4" stroke="#333" stroke-width="0.55" fill="none"/>
<path d="M325,521.5 L404,521.5" stroke="#bdbdbd" stroke-width="2.6" fill="none"/>
<path d="M330.6,514.6 L333.6,498.4" stroke="#2f2f2f" stroke-width="3.8" stroke-dasharray="0.9 0.7" fill="none"/>
<rect x="331.6" y="496.2" width="4" height="2.4" fill="#333" transform="rotate(10 333.6 497.4)"/>
<path d="M336.6,514.6 L339.6,498.4" stroke="#2f2f2f" stroke-width="3.8" stroke-dasharray="0.9 0.7" fill="none"/>
<rect x="337.6" y="496.2" width="4" height="2.4" fill="#333" transform="rotate(10 339.6 497.4)"/>
<path d="M345.1,514.6 L348.1,498.4" stroke="#2f2f2f" stroke-width="3.8" stroke-dasharray="0.9 0.7" fill="none"/>
<rect x="346.1" y="496.2" width="4" height="2.4" fill="#333" transform="rotate(10 348.1 497.4)"/>
<path d="M351.1,514.6 L354.1,498.4" stroke="#2f2f2f" stroke-width="3.8" stroke-dasharray="0.9 0.7" fill="none"/>
<rect x="352.1" y="496.2" width="4" height="2.4" fill="#333" transform="rotate(10 354.1 497.4)"/>
<path d="M327,515.4 L358,515.4 M329,517 L356,517" stroke="#333" stroke-width="0.55" fill="none"/>
<path d="M365.7,420 L366.4,414 Q366.8,412.6 369,412.4 L404.6,411.4 Q406.8,411.4 407.2,413.4 L407.5,420 Z" stroke="#333" stroke-width="0.55" fill="#fff"/>
<path d="M381,412.6 L381.6,415.8 L401,415.4 L401.8,411.8 M366.6,416.6 L381.4,416.2 M366,418.4 L407.4,417.6" stroke="#333" stroke-width="0.55" fill="none"/>
<path d="M365.7,420 L364.6,433.1 M407.5,420 L408.2,433.1" stroke="#333" stroke-width="0.55" fill="none"/>
<path d="M364.6,433.1 Q360.4,434.6 360.5,440 L360.5,445 L409.1,445 L409.1,440 Q409.2,434.6 408.2,433.1 Q386,428.6 364.6,433.1 Z" stroke="#333" stroke-width="0.55" fill="#fff"/>
<path d="M360.5,446.4 L409.1,446.4 M360.5,448.4 L409.1,448.4" stroke="#4a4a4a" stroke-width="0.9" fill="none"/>
<path d="M360.5,445 L360.5,450.3 L409.1,450.3 L409.1,445" stroke="#333" stroke-width="0.55" fill="none"/>
<path d="M361.4,450.3 L376.5,467.7 L405,467.7 L408.6,450.3 M366,450.3 L378.6,466 M399,450.3 L404,462 M374.4,455 L406.6,455 M361.4,452.6 L364,452.6 L367.6,458 M408.4,452.4 L405.6,453 L403.6,458.6" stroke="#333" stroke-width="0.55" fill="none"/>
<path d="M445.6,411.7 L446.4,405.4 Q447,402.8 451,402.4 L470.4,402 Q474.4,402 474.8,404.8 L475.4,411.7 Z" stroke="#333" stroke-width="0.55" fill="#fff"/>
<path d="M448,406.4 L462,404.4 L462.6,408.8 L448,409.6 M462,404.4 L473.6,404 M464,408.4 L475,408.4" stroke="#333" stroke-width="0.55" fill="none"/>
<path d="M446,409.4 L462,407.2" stroke="#444" stroke-width="1.2" fill="none"/>
<path d="M445.6,411.7 L443.9,422.4 M475.4,411.7 L476.6,422.4" stroke="#333" stroke-width="0.55" fill="none"/>
<path d="M443.9,422.4 Q440.6,424 440.8,430 L440.8,436 Q441,437.9 443.6,437.9 L476.4,437.9 Q479,437.9 479,436 L479,430 Q479.2,424 476.6,422.4 Q460,418.4 443.9,422.4 Z" stroke="#333" stroke-width="0.55" fill="#fff"/>
<path d="M441,435.4 L479,435.4" stroke="#4a4a4a" stroke-width="0.8" fill="none"/>
<path d="M446.8,437.9 L446.8,448.6 L474.2,448.6 L474.2,437.9 M446.8,441.6 L453,437.9 M474.2,441.6 L468,437.9 M446.8,446.6 L474.2,446.6 M446.8,444.6 L474.2,444.6" stroke="#333" stroke-width="0.55" fill="none"/>
<path d="M443.2,448.6 L475.4,450.3 L455.1,473.6 L442,477.2 Z" stroke="#333" stroke-width="0.55" fill="#fff"/>
<path d="M446.4,452 L469.6,453 L453.4,471.6 L445.4,473.6 Z M468,455.6 L471.4,456.2 M464,461 L466.6,461.6" stroke="#333" stroke-width="0.55" fill="none"/>
<path d="M412.2,471.3 L412.2,488 L453.9,488 L453.9,478 M414.4,471.3 L414.4,481.4 L436.4,481.4 L436.4,471.3 M438.2,471.3 L438.2,483.6 M417,483.6 L450,483.6 M417,479 L436,479 M412.2,485.8 L453.9,485.8" stroke="#333" stroke-width="0.55" fill="none"/>
<path d="M369.3,468.9 L408.6,468.9 L408.6,495.1 L403.9,501.1 L394.3,515.4 L359.8,515.4 L359.8,477.2 Z" stroke="#333" stroke-width="0.55" fill="#fff"/>
<path d="M349.5,473.6 L359.8,477.2 L359.8,499.9 L352,499.9 L349.5,496 Z M351.6,476.4 L358,478.6 L358,486 L353,482 Z M351.4,488 L357.6,492" stroke="#333" stroke-width="0.55" fill="#fff"/>
<circle cx="352.4" cy="476.4" r="1.2" stroke="#333" stroke-width="0.55" fill="none"/>
<circle cx="389.6" cy="496.6" r="5" stroke="#333" stroke-width="0.55" fill="#fff"/><path d="M386,501 L385,508 L394,508 L393,501" stroke="#333" stroke-width="0.55" fill="none"/>
<circle cx="400.4" cy="493.6" r="1.8" stroke="#333" stroke-width="0.8" fill="none"/>
<rect x="371.6" y="485.6" width="3.6" height="4" stroke="#333" stroke-width="0.55" fill="none"/><rect x="369.4" y="497" width="2.4" height="5" stroke="#333" stroke-width="0.55" fill="none"/><rect x="379.6" y="501.6" width="5" height="5.4" stroke="#333" stroke-width="0.55" fill="none"/>
<circle cx="386" cy="472.6" r="0.55" fill="#555"/>
<circle cx="376" cy="477" r="0.55" fill="#555"/>
<circle cx="392" cy="478" r="0.55" fill="#555"/>
<circle cx="400" cy="473" r="0.55" fill="#555"/>
<circle cx="383" cy="483" r="0.55" fill="#555"/>
<circle cx="396" cy="486" r="0.55" fill="#555"/>
<circle cx="404" cy="481" r="0.55" fill="#555"/>
<circle cx="372" cy="494" r="0.55" fill="#555"/>
<circle cx="379" cy="492" r="0.55" fill="#555"/>
<circle cx="366" cy="505" r="0.55" fill="#555"/>
<circle cx="374" cy="509" r="0.55" fill="#555"/>
<circle cx="398" cy="505" r="0.55" fill="#555"/>
<circle cx="405" cy="489" r="0.55" fill="#555"/>
<circle cx="363" cy="484" r="0.55" fill="#555"/>
<circle cx="386" cy="489" r="0.55" fill="#555"/>
<circle cx="386.6" cy="472.4" r="1.3" stroke="#333" stroke-width="0.55" fill="none"/><circle cx="386.6" cy="481.4" r="1.1" stroke="#333" stroke-width="0.55" fill="none"/><circle cx="399.6" cy="491.4" r="1.6" stroke="#333" stroke-width="1" fill="none"/><circle cx="403.6" cy="494.6" r="1.4" fill="#555"/><circle cx="412" cy="493" r="1.6" fill="#555"/>
<path d="M369,486 L373.6,484.6 L375,489 L370.6,490.6 Z M380,497.6 L386,497.6 L386,504 L380,504 Z M366.6,497 L366.6,502.6 M362.6,506 Q366,510 370,506 Q374,502 378,508 M392,503.6 Q396,498 401.6,501 L404,508 M396.6,506 L402,506.6" stroke="#333" stroke-width="0.55" fill="none"/>
<path d="M359.8,509.6 L394,509.6 M360,512.6 L396,512.6 M397,505 L408,503.4 M403,499 L410,497" stroke="#333" stroke-width="0.55" fill="none"/>
<circle cx="429.1" cy="516.1" r="24.5" stroke="#333" stroke-width="0.5" fill="#fff"/>
<circle cx="429.1" cy="516.1" r="22.5" stroke="#3a3a3a" stroke-width="3.7" stroke-dasharray="0.85 0.95" fill="none"/>
<circle cx="429.1" cy="516.1" r="20.5" stroke="#333" stroke-width="0.55" fill="none"/>
<circle cx="429.1" cy="516.1" r="13.4" stroke="#505050" stroke-width="2.1" fill="none"/>
<circle cx="429.1" cy="516.1" r="11.6" stroke="#333" stroke-width="0.55" fill="none"/>
<circle cx="429.1" cy="516.1" r="7.2" stroke="#333" stroke-width="0.8" fill="none"/>
<circle cx="429.1" cy="516.1" r="4.6" stroke="#444" stroke-width="2.4" stroke-dasharray="1.4 1" fill="none"/>
<circle cx="429.1" cy="516.1" r="1.6" stroke="#333" stroke-width="0.55" fill="none"/>
<path d="M429.1,516.1 L421,509 M429.1,516.1 L437,509.4 M429.1,516.1 L433,526 M429.1,516.1 L420.6,521" stroke="#333" stroke-width="0.55" fill="none"/>
<path d="M414.6,494.6 Q428,484.6 446,492.6" stroke="#333" stroke-width="0.55" fill="none"/>
<path d="M425.4,491.6 Q435,489.6 444.2,495.4" stroke="#3a3a3a" stroke-width="3.4" stroke-dasharray="0.8 0.8" fill="none"/>
<path d="M444,495.8 L497.4,495.8 M444,500 L497.4,500 M444,510.8 L497.4,510.8 M444,513.8 L497.4,513.8 M495,495.8 L495,518 M497.4,495.8 L497.4,518 M471,495.8 L471,513.8 M473.6,495.8 L473.6,513.8 M447,500 L447,510.8 M449.6,500 L449.6,510.8" stroke="#333" stroke-width="0.55" fill="none"/>
<path d="M450.6,518 L519,518 M450.6,522.8 L519,522.8 M446,516 L452,518 M462,518 L462,522.8 M470,518 L470,522.8 M486,518 L486,522.8" stroke="#333" stroke-width="0.55" fill="none"/>
<path d="M492,519.4 L506,519.4" stroke="#444" stroke-width="1.2" stroke-dasharray="1 0.8" fill="none"/>
<path d="M453,490.4 L457.2,509.6" stroke="#2f2f2f" stroke-width="2.6" stroke-dasharray="0.8 0.7" fill="none"/>
<path d="M451.4,490 L452.6,487.6 L454.4,490 M451,492 L455.6,491.4" stroke="#333" stroke-width="0.9" fill="none"/>
<path d="M457,497 Q461,503 459,509 M460.6,500 L468,503 L468,508 L462,509 M463,502 L466,506 M459,506 Q464,512 470,510" stroke="#3a3a3a" stroke-width="0.7" fill="none"/>
<circle cx="487.8" cy="506" r="9" stroke="#333" stroke-width="0.55" fill="#fff"/><circle cx="487.8" cy="506" r="7.4" stroke="#333" stroke-width="0.55" fill="none"/>
<circle cx="489.4" cy="503.4" r="4.6" stroke="#2e2e2e" stroke-width="1.3" fill="none"/><circle cx="489.4" cy="503.4" r="2" fill="#444"/>
<path d="M480,503 Q478,510 484,513 Q491,516 495,510 M481,500 Q477,497 479.6,495.8 M482,508 L486,509.6 L485,505" stroke="#3a3a3a" stroke-width="0.7" fill="none"/>
<path d="M471,495.8 L477.6,492.2 L487,494.6 L497.4,497.6 L504.6,492.8 L505.8,495.8 L497.4,501.2" stroke="#333" stroke-width="0.55" fill="none"/>
<path d="M503.4,514 L516,512.6 L520,515 L527,514 M503.4,517 L518,516.4 M506,520 L522,521.4 M509,512.6 L509,522 M513,513 L513,522 M517,514 L517,523" stroke="#333" stroke-width="0.55" fill="none"/>
<rect x="510.6" y="510.4" width="2.6" height="3" fill="#444"/><circle cx="512" cy="509.6" r="1" fill="#444"/>
<path d="M519,516 Q524,512 529,515.4 Q532.6,511 535.6,514.6 M526.4,516 Q528.4,524 523,527 M520,522 L514,530 M517,521 L511.6,528" stroke="#333" stroke-width="0.55" fill="none"/>
<path d="M530.6,513 L533.4,511 L535.8,513.4 L533.6,515.8 Z" stroke="#333" stroke-width="0.55" fill="none"/>
<path d="M507,523 L513,527.6 M505,525 L511,529.6" stroke="#333" stroke-width="1" fill="none"/>
<path d="M330,518.6 L348,524.6 L348,529.6 L338,528 M352,526 L372,533 M355,523.6 L374,530 M342,526 L342,531 L346,531.6" stroke="#333" stroke-width="0.55" fill="none"/>
<path d="M394,522.4 L394,531 M397,522.4 L397,531 M390,531 L400,531" stroke="#333" stroke-width="0.55" fill="none"/>
<circle cx="356.6" cy="536.7" r="10" stroke="#333" stroke-width="0.55" fill="#fff"/><circle cx="356.6" cy="536.7" r="4" stroke="#333" stroke-width="0.55" fill="none"/>
<path d="M373,548 Q384,558 394,548 Q398,540 396,528 M376,548 Q385,554 391,546 Q395,538 393,528 M379,546 Q386,550 389,543" stroke="#333" stroke-width="0.55" fill="none"/>
<circle cx="372.4" cy="535.4" r="12" stroke="#3c3c3c" stroke-width="0.5" fill="#fff"/>
<circle cx="372.4" cy="535.4" r="9.84" stroke="#3c3c3c" stroke-width="0.5" fill="none"/>
<circle cx="372.4" cy="535.4" r="4.32" stroke="#333" stroke-width="0.55" fill="none"/>
<circle cx="372.4" cy="535.4" r="1.44" stroke="#333" stroke-width="0.55" fill="none"/>
<circle cx="375.28" cy="535.4" r="0.6" fill="#444"/>
<circle cx="373.84" cy="537.89" r="0.6" fill="#444"/>
<circle cx="370.96" cy="537.89" r="0.6" fill="#444"/>
<circle cx="369.52" cy="535.4" r="0.6" fill="#444"/>
<circle cx="370.96" cy="532.91" r="0.6" fill="#444"/>
<circle cx="373.84" cy="532.91" r="0.6" fill="#444"/>
<circle cx="372.4" cy="535.4" r="5.4" stroke="#333" stroke-width="1.1" fill="none"/>
<path d="M338,528.6 L368,533.4 M339,531.6 L366,536.4" stroke="#333" stroke-width="0.55" fill="none"/>
<path d="M411.6,523.7 L416.4,523.7 L416.4,534 Q416,542 409.6,548 L404,552.6 L403.4,551.4 L408,545.6 Q411.6,540 411.6,534 Z" stroke="#333" stroke-width="0.55" fill="#fff"/>
<path d="M416.4,523.7 L420.4,523.7 L420.4,536 Q420,543 414,548.6 L409.6,551 M412,528 L420,528 M412,531.6 L420,531.6" stroke="#333" stroke-width="0.55" fill="none"/>
<circle cx="453.6" cy="533.6" r="9.6" stroke="#3c3c3c" stroke-width="0.5" fill="#fff"/>
<circle cx="453.6" cy="533.6" r="7.87" stroke="#3c3c3c" stroke-width="0.5" fill="none"/>
<circle cx="453.6" cy="533.6" r="3.46" stroke="#333" stroke-width="0.55" fill="none"/>
<circle cx="453.6" cy="533.6" r="1.15" stroke="#333" stroke-width="0.55" fill="none"/>
<circle cx="455.9" cy="533.6" r="0.5" fill="#444"/>
<circle cx="454.75" cy="535.6" r="0.5" fill="#444"/>
<circle cx="452.45" cy="535.6" r="0.5" fill="#444"/>
<circle cx="451.3" cy="533.6" r="0.5" fill="#444"/>
<circle cx="452.45" cy="531.6" r="0.5" fill="#444"/>
<circle cx="454.75" cy="531.6" r="0.5" fill="#444"/>
<circle cx="469.8" cy="534.2" r="10.8" stroke="#2e2e2e" stroke-width="1.1" fill="#fff"/><circle cx="469.8" cy="534.2" r="9.2" stroke="#333" stroke-width="0.8" fill="none"/><circle cx="469.8" cy="534.2" r="7.6" stroke="#333" stroke-width="0.55" fill="none"/><circle cx="467.6" cy="535" r="4" stroke="#333" stroke-width="0.9" fill="none"/>
<circle cx="478.8" cy="533.6" r="10.8" stroke="#3c3c3c" stroke-width="0.5" fill="#fff"/>
<circle cx="478.8" cy="533.6" r="8.86" stroke="#3c3c3c" stroke-width="0.5" fill="none"/>
<circle cx="478.8" cy="533.6" r="3.89" stroke="#333" stroke-width="0.55" fill="none"/>
<circle cx="478.8" cy="533.6" r="1.3" stroke="#333" stroke-width="0.55" fill="none"/>
<circle cx="481.39" cy="533.6" r="0.54" fill="#444"/>
<circle cx="480.1" cy="535.84" r="0.54" fill="#444"/>
<circle cx="477.5" cy="535.84" r="0.54" fill="#444"/>
<circle cx="476.21" cy="533.6" r="0.54" fill="#444"/>
<circle cx="477.5" cy="531.36" r="0.54" fill="#444"/>
<circle cx="480.1" cy="531.36" r="0.54" fill="#444"/>
<circle cx="496.2" cy="534.8" r="11.4" stroke="#2a2a2a" stroke-width="1.3" fill="#fff"/><circle cx="496.2" cy="534.8" r="9.6" stroke="#2e2e2e" stroke-width="1.1" fill="none"/><circle cx="496.2" cy="534.8" r="7.2" stroke="#444" stroke-width="2.2" stroke-dasharray="1.2 0.9" fill="none"/><circle cx="496.2" cy="534.8" r="4.4" stroke="#333" stroke-width="1" fill="none"/><circle cx="496.2" cy="534.8" r="2" fill="#555"/>
<circle cx="525" cy="536.6" r="9" stroke="#2a2a2a" stroke-width="1.3" fill="#fff"/><circle cx="525" cy="536.6" r="7.2" stroke="#333" stroke-width="0.9" fill="none"/><circle cx="525" cy="536.6" r="5" stroke="#444" stroke-width="0.8" fill="none"/><circle cx="525" cy="536.6" r="3" stroke="#333" stroke-width="1.2" fill="none"/><circle cx="525" cy="536.6" r="1.2" fill="#444"/>
<path d="M533.6,530 L538,527.6" stroke="#444" stroke-width="1" fill="none"/>
<path d="M345.6,535.6 L345.6,574.2 L538,574.2 L538,527.7" stroke="#e0464f" stroke-width="1.3" fill="none"/>
<path d="M570.8,475.5 L570.8,559 L748.3,559 M776,559 L959.2,559 L959.2,475.5" stroke="#e2e2e2" stroke-width="0.8" fill="none"/>
<path d="M581.2,464.5 L575,464.5 Q571,465 571,469 L571,472 Q571,475.5 575,475.5 L581.2,475.5 M573.5,467 L573.5,473 M571,470.8 L581,470.8" stroke="#303030" stroke-width="0.65" fill="none"/>
<path d="M951,464.5 L955.5,464.5 Q959.4,465 959.4,469 L959.4,472 Q959.4,475.5 955.5,475.5 L951,475.5 M957,467 L957,473 M959,470.8 L951,470.8" stroke="#303030" stroke-width="0.65" fill="none"/>
<path d="M599.7,404 L599.7,399 Q600.2,396 604.7,395.6 Q622.4,394.6 640.1,395.6 Q644.6,396 645.1,399 L645.1,404 Z" stroke="#303030" stroke-width="0.65" fill="none"/>
<path d="M599.7,399.2 L645.1,399.2 M599.7,401.6 L645.1,401.6 M601.7,397.4 Q622.4,396.4 643.1,397.4" stroke="#303030" stroke-width="0.65" fill="none"/>
<path d="M600.7,403 L644.1,403" stroke="#555" stroke-width="1" fill="none"/>
<path d="M645.9,404 L645.9,399 Q646.4,396 650.9,395.6 Q668.6,394.6 686.3,395.6 Q690.8,396 691.3,399 L691.3,404 Z" stroke="#303030" stroke-width="0.65" fill="none"/>
<path d="M645.9,399.2 L691.3,399.2 M645.9,401.6 L691.3,401.6 M647.9,397.4 Q668.6,396.4 689.3,397.4" stroke="#303030" stroke-width="0.65" fill="none"/>
<path d="M646.9,403 L690.3,403" stroke="#555" stroke-width="1" fill="none"/>
<path d="M692.1,404 L692.1,399 Q692.6,396 697.1,395.6 Q714.8,394.6 732.5,395.6 Q737,396 737.5,399 L737.5,404 Z" stroke="#303030" stroke-width="0.65" fill="none"/>
<path d="M692.1,399.2 L737.5,399.2 M692.1,401.6 L737.5,401.6 M694.1,397.4 Q714.8,396.4 735.5,397.4" stroke="#303030" stroke-width="0.65" fill="none"/>
<path d="M693.1,403 L736.5,403" stroke="#555" stroke-width="1" fill="none"/>
<path d="M598.3,404 L738.9,404 M597.3,406.6 L739.9,406.6 M598.3,404 L595.3,409.4 M738.9,404 L741.9,409.4" stroke="#303030" stroke-width="0.65" fill="none"/>
<path d="M587.2,443 L589.4,430.2 L592.4,414.4 Q592.9,409.4 597.4,409.4 L739.8,409.4 Q744.3,409.4 744.8,414.4 L747.8,430.2 L750.4,443" stroke="#303030" stroke-width="0.65" fill="none"/>
<path d="M643.2,409.4 L643.2,423.4 M694,409.4 L694,423.4 M592.4,415.9 L744.8,415.9" stroke="#303030" stroke-width="0.65" fill="none"/>
<rect x="601.5" y="413.8" width="7.2" height="10.4" rx="2" stroke="#303030" stroke-width="0.65" fill="none"/>
<rect x="602.5" y="415" width="5.2" height="8.4" rx="1.6" stroke="#303030" stroke-width="0.65" fill="none"/>
<rect x="622.33" y="413.8" width="7.2" height="10.4" rx="2" stroke="#303030" stroke-width="0.65" fill="none"/>
<rect x="623.33" y="415" width="5.2" height="8.4" rx="1.6" stroke="#303030" stroke-width="0.65" fill="none"/>
<rect x="653.32" y="413.8" width="7.2" height="10.4" rx="2" stroke="#303030" stroke-width="0.65" fill="none"/>
<rect x="654.32" y="415" width="5.2" height="8.4" rx="1.6" stroke="#303030" stroke-width="0.65" fill="none"/>
<rect x="676.68" y="413.8" width="7.2" height="10.4" rx="2" stroke="#303030" stroke-width="0.65" fill="none"/>
<rect x="677.68" y="415" width="5.2" height="8.4" rx="1.6" stroke="#303030" stroke-width="0.65" fill="none"/>
<rect x="728.5" y="413.8" width="7.2" height="10.4" rx="2" stroke="#303030" stroke-width="0.65" fill="none"/>
<rect x="729.5" y="415" width="5.2" height="8.4" rx="1.6" stroke="#303030" stroke-width="0.65" fill="none"/>
<rect x="707.67" y="413.8" width="7.2" height="10.4" rx="2" stroke="#303030" stroke-width="0.65" fill="none"/>
<rect x="708.67" y="415" width="5.2" height="8.4" rx="1.6" stroke="#303030" stroke-width="0.65" fill="none"/>
<path d="M589.9,429.2 Q617.8,439.2 643.2,430.2 Q668.6,440.2 694,430.2 Q719.4,439.2 747.3,429.2" stroke="#303030" stroke-width="0.65" fill="none"/>
<path d="M663,429.6 l11.6,0" stroke="#7a7a7a" stroke-width="2.6" stroke-dasharray="1.7 0.6" fill="none" transform="skewX(-14) translate(106.97,0)"/>
<path d="M584.2,436 L584.2,461 M753.4,436 L753.4,461 M582.2,440 L582.2,506 M755.4,440 L755.4,506" stroke="#303030" stroke-width="0.65" fill="none"/>
<rect x="584.2" y="432" width="4" height="6" stroke="#303030" stroke-width="0.65" fill="none"/><rect x="749.4" y="432" width="4" height="6" stroke="#303030" stroke-width="0.65" fill="none"/>
<path d="M583.2,443.8 L754.4,443.8" stroke="#4a4a4a" stroke-width="1.4" fill="none"/>
<path d="M601,446.8 L610.2,446.8 L607.9,457.6 L603.3,457.6 Z" stroke="#303030" stroke-width="0.65" fill="none"/>
<path d="M599.6,461.6 Q600.6,466.4 603.1,466.8 L608.1,466.8 Q610.6,466.4 611.6,461.6 M601.2,464.6 L610,464.6" stroke="#303030" stroke-width="0.65" fill="none"/>
<path d="M616.75,446.8 L625.95,446.8 L623.65,457.6 L619.05,457.6 Z" stroke="#303030" stroke-width="0.65" fill="none"/>
<path d="M615.35,461.6 Q616.35,466.4 618.85,466.8 L623.85,466.8 Q626.35,466.4 627.35,461.6 M616.95,464.6 L625.75,464.6" stroke="#303030" stroke-width="0.65" fill="none"/>
<path d="M632.5,446.8 L641.7,446.8 L639.4,457.6 L634.8,457.6 Z" stroke="#303030" stroke-width="0.65" fill="none"/>
<path d="M631.1,461.6 Q632.1,466.4 634.6,466.8 L639.6,466.8 Q642.1,466.4 643.1,461.6 M632.7,464.6 L641.5,464.6" stroke="#303030" stroke-width="0.65" fill="none"/>
<path d="M648.25,446.8 L657.45,446.8 L655.15,457.6 L650.55,457.6 Z" stroke="#303030" stroke-width="0.65" fill="none"/>
<path d="M646.85,461.6 Q647.85,466.4 650.35,466.8 L655.35,466.8 Q657.85,466.4 658.85,461.6 M648.45,464.6 L657.25,464.6" stroke="#303030" stroke-width="0.65" fill="none"/>
<path d="M664,446.8 L673.2,446.8 L670.9,457.6 L666.3,457.6 Z" stroke="#303030" stroke-width="0.65" fill="none"/>
<path d="M662.6,461.6 Q663.6,466.4 666.1,466.8 L671.1,466.8 Q673.6,466.4 674.6,461.6 M664.2,464.6 L673,464.6" stroke="#303030" stroke-width="0.65" fill="none"/>
<path d="M679.75,446.8 L688.95,446.8 L686.65,457.6 L682.05,457.6 Z" stroke="#303030" stroke-width="0.65" fill="none"/>
<path d="M678.35,461.6 Q679.35,466.4 681.85,466.8 L686.85,466.8 Q689.35,466.4 690.35,461.6 M679.95,464.6 L688.75,464.6" stroke="#303030" stroke-width="0.65" fill="none"/>
<path d="M695.5,446.8 L704.7,446.8 L702.4,457.6 L697.8,457.6 Z" stroke="#303030" stroke-width="0.65" fill="none"/>
<path d="M694.1,461.6 Q695.1,466.4 697.6,466.8 L702.6,466.8 Q705.1,466.4 706.1,461.6 M695.7,464.6 L704.5,464.6" stroke="#303030" stroke-width="0.65" fill="none"/>
<path d="M711.25,446.8 L720.45,446.8 L718.15,457.6 L713.55,457.6 Z" stroke="#303030" stroke-width="0.65" fill="none"/>
<path d="M709.85,461.6 Q710.85,466.4 713.35,466.8 L718.35,466.8 Q720.85,466.4 721.85,461.6 M711.45,464.6 L720.25,464.6" stroke="#303030" stroke-width="0.65" fill="none"/>
<path d="M727,446.8 L736.2,446.8 L733.9,457.6 L729.3,457.6 Z" stroke="#303030" stroke-width="0.65" fill="none"/>
<path d="M725.6,461.6 Q726.6,466.4 729.1,466.8 L734.1,466.8 Q736.6,466.4 737.6,461.6 M727.2,464.6 L736,464.6" stroke="#303030" stroke-width="0.65" fill="none"/>
<path d="M637.88,445 L637.88,458 M639.88,445 L639.88,458" stroke="#303030" stroke-width="0.65" fill="none"/>
<path d="M667.6,445 L667.6,458 M669.6,445 L669.6,458" stroke="#303030" stroke-width="0.65" fill="none"/>
<path d="M697.32,445 L697.32,458 M699.32,445 L699.32,458" stroke="#303030" stroke-width="0.65" fill="none"/>
<path d="M581.2,459.6 L756.4,459.6" stroke="#5c5c5c" stroke-width="3.4" fill="none"/>
<path d="M582.2,455.4 L755.4,455.4" stroke="#303030" stroke-width="0.65" fill="none"/>
<path d="M581.2,470.8 L756.4,470.8" stroke="#303030" stroke-width="0.65" fill="none"/>
<path d="M581.2,473.2 L756.4,473.2" stroke="#303030" stroke-width="0.65" fill="none"/>
<path d="M581.2,477.8 L756.4,477.8" stroke="#303030" stroke-width="0.65" fill="none"/>
<path d="M581.2,481.3 L756.4,481.3" stroke="#303030" stroke-width="0.65" fill="none"/>
<path d="M581.2,485.2 L756.4,485.2" stroke="#303030" stroke-width="0.65" fill="none"/>
<path d="M581.2,488.2 L756.4,488.2" stroke="#303030" stroke-width="0.65" fill="none"/>
<path d="M581.2,494 L756.4,494" stroke="#303030" stroke-width="0.65" fill="none"/>
<path d="M581.2,501 L756.4,501" stroke="#303030" stroke-width="0.65" fill="none"/>
<path d="M581.2,503.8 L756.4,503.8" stroke="#303030" stroke-width="0.65" fill="none"/>
<path d="M581.2,508 L756.4,508" stroke="#303030" stroke-width="0.65" fill="none"/>
<path d="M582.2,486.7 L755.4,486.7" stroke="#555" stroke-width="0.9" fill="none"/>
<path d="M668,462 L668,502 M669.6,462 L669.6,502" stroke="#303030" stroke-width="0.65" fill="none"/>
<path d="M594.9,474 L594.9,488 M597.7,474 L597.7,488" stroke="#303030" stroke-width="0.65" fill="none"/>
<rect x="594.3" y="481.6" width="4" height="3.4" fill="#333"/>
<path d="M596.3,490 L596.3,508" stroke="#333" stroke-width="5.6" stroke-dasharray="0.8 0.7" fill="none"/>
<path d="M593.3,489.6 L593.3,508 M599.3,489.6 L599.3,508" stroke="#303030" stroke-width="0.65" fill="none"/>
<circle cx="589.9" cy="498" r="1.5" fill="#222"/>
<path d="M591.9,508 L600.7,508 L601.7,514 L599.3,520 L593.3,520 L590.9,514 Z" stroke="#303030" stroke-width="0.65" fill="#fff"/>
<path d="M593.9,510 L598.7,510 L598.7,516 L593.9,516 Z M590.3,512 L602.3,512" stroke="#303030" stroke-width="0.65" fill="none"/>
<path d="M592.7,509 L592.7,519 M599.9,509 L599.9,519 M591.3,516 L601.3,516 M592.3,518.4 L600.3,518.4" stroke="#303030" stroke-width="0.65" fill="none"/>
<rect x="594.8" y="512.6" width="3" height="3" fill="#555"/>
<rect x="585.3" y="517.6" width="7.6" height="21.8" rx="2.2" stroke="#303030" stroke-width="0.65" fill="#fff"/>
<rect x="599.7" y="517.6" width="7.6" height="21.8" rx="2.2" stroke="#303030" stroke-width="0.65" fill="#fff"/>
<path d="M589.7,521 Q589.3,530 594.3,539 M602.9,521 Q603.3,530 598.3,539 M591.7,523 L600.9,523 L599.9,528 L592.7,528 Z M593.3,528 L594.1,537 M599.3,528 L598.5,537" stroke="#303030" stroke-width="0.65" fill="none"/>
<path d="M596.3,530 L596.3,545.6" stroke="#444" stroke-width="1" fill="none"/>
<path d="M622.8,474 L622.8,488 M625.6,474 L625.6,488" stroke="#303030" stroke-width="0.65" fill="none"/>
<rect x="622.2" y="481.6" width="4" height="3.4" fill="#333"/>
<path d="M624.2,490 L624.2,508" stroke="#333" stroke-width="5.6" stroke-dasharray="0.8 0.7" fill="none"/>
<path d="M621.2,489.6 L621.2,508 M627.2,489.6 L627.2,508" stroke="#303030" stroke-width="0.65" fill="none"/>
<circle cx="617.8" cy="498" r="1.5" fill="#222"/>
<path d="M619.8,508 L628.6,508 L629.6,514 L627.2,520 L621.2,520 L618.8,514 Z" stroke="#303030" stroke-width="0.65" fill="#fff"/>
<path d="M621.8,510 L626.6,510 L626.6,516 L621.8,516 Z M618.2,512 L630.2,512" stroke="#303030" stroke-width="0.65" fill="none"/>
<path d="M620.6,509 L620.6,519 M627.8,509 L627.8,519 M619.2,516 L629.2,516 M620.2,518.4 L628.2,518.4" stroke="#303030" stroke-width="0.65" fill="none"/>
<rect x="622.7" y="512.6" width="3" height="3" fill="#555"/>
<rect x="613.2" y="517.6" width="7.6" height="21.8" rx="2.2" stroke="#303030" stroke-width="0.65" fill="#fff"/>
<rect x="627.6" y="517.6" width="7.6" height="21.8" rx="2.2" stroke="#303030" stroke-width="0.65" fill="#fff"/>
<path d="M617.6,521 Q617.2,530 622.2,539 M630.8,521 Q631.2,530 626.2,539 M619.6,523 L628.8,523 L627.8,528 L620.6,528 Z M621.2,528 L622,537 M627.2,528 L626.4,537" stroke="#303030" stroke-width="0.65" fill="none"/>
<path d="M624.2,530 L624.2,545.6" stroke="#444" stroke-width="1" fill="none"/>
<path d="M651.3,474 L651.3,488 M654.1,474 L654.1,488" stroke="#303030" stroke-width="0.65" fill="none"/>
<rect x="650.7" y="481.6" width="4" height="3.4" fill="#333"/>
<path d="M652.7,490 L652.7,508" stroke="#333" stroke-width="5.6" stroke-dasharray="0.8 0.7" fill="none"/>
<path d="M649.7,489.6 L649.7,508 M655.7,489.6 L655.7,508" stroke="#303030" stroke-width="0.65" fill="none"/>
<circle cx="646.3" cy="498" r="1.5" fill="#222"/>
<path d="M648.3,508 L657.1,508 L658.1,514 L655.7,520 L649.7,520 L647.3,514 Z" stroke="#303030" stroke-width="0.65" fill="#fff"/>
<path d="M650.3,510 L655.1,510 L655.1,516 L650.3,516 Z M646.7,512 L658.7,512" stroke="#303030" stroke-width="0.65" fill="none"/>
<path d="M649.1,509 L649.1,519 M656.3,509 L656.3,519 M647.7,516 L657.7,516 M648.7,518.4 L656.7,518.4" stroke="#303030" stroke-width="0.65" fill="none"/>
<rect x="651.2" y="512.6" width="3" height="3" fill="#555"/>
<rect x="641.7" y="517.6" width="7.6" height="21.8" rx="2.2" stroke="#303030" stroke-width="0.65" fill="#fff"/>
<rect x="656.1" y="517.6" width="7.6" height="21.8" rx="2.2" stroke="#303030" stroke-width="0.65" fill="#fff"/>
<path d="M646.1,521 Q645.7,530 650.7,539 M659.3,521 Q659.7,530 654.7,539 M648.1,523 L657.3,523 L656.3,528 L649.1,528 Z M649.7,528 L650.5,537 M655.7,528 L654.9,537" stroke="#303030" stroke-width="0.65" fill="none"/>
<path d="M652.7,530 L652.7,545.6" stroke="#444" stroke-width="1" fill="none"/>
<path d="M679.6,474 L679.6,488 M682.4,474 L682.4,488" stroke="#303030" stroke-width="0.65" fill="none"/>
<rect x="679" y="481.6" width="4" height="3.4" fill="#333"/>
<path d="M681,490 L681,508" stroke="#333" stroke-width="5.6" stroke-dasharray="0.8 0.7" fill="none"/>
<path d="M678,489.6 L678,508 M684,489.6 L684,508" stroke="#303030" stroke-width="0.65" fill="none"/>
<circle cx="674.6" cy="498" r="1.5" fill="#222"/>
<path d="M676.6,508 L685.4,508 L686.4,514 L684,520 L678,520 L675.6,514 Z" stroke="#303030" stroke-width="0.65" fill="#fff"/>
<path d="M678.6,510 L683.4,510 L683.4,516 L678.6,516 Z M675,512 L687,512" stroke="#303030" stroke-width="0.65" fill="none"/>
<path d="M677.4,509 L677.4,519 M684.6,509 L684.6,519 M676,516 L686,516 M677,518.4 L685,518.4" stroke="#303030" stroke-width="0.65" fill="none"/>
<rect x="679.5" y="512.6" width="3" height="3" fill="#555"/>
<rect x="670" y="517.6" width="7.6" height="21.8" rx="2.2" stroke="#303030" stroke-width="0.65" fill="#fff"/>
<rect x="684.4" y="517.6" width="7.6" height="21.8" rx="2.2" stroke="#303030" stroke-width="0.65" fill="#fff"/>
<path d="M674.4,521 Q674,530 679,539 M687.6,521 Q688,530 683,539 M676.4,523 L685.6,523 L684.6,528 L677.4,528 Z M678,528 L678.8,537 M684,528 L683.2,537" stroke="#303030" stroke-width="0.65" fill="none"/>
<path d="M681,530 L681,545.6" stroke="#444" stroke-width="1" fill="none"/>
<path d="M707.9,474 L707.9,488 M710.7,474 L710.7,488" stroke="#303030" stroke-width="0.65" fill="none"/>
<rect x="707.3" y="481.6" width="4" height="3.4" fill="#333"/>
<path d="M709.3,490 L709.3,508" stroke="#333" stroke-width="5.6" stroke-dasharray="0.8 0.7" fill="none"/>
<path d="M706.3,489.6 L706.3,508 M712.3,489.6 L712.3,508" stroke="#303030" stroke-width="0.65" fill="none"/>
<circle cx="702.9" cy="498" r="1.5" fill="#222"/>
<path d="M704.9,508 L713.7,508 L714.7,514 L712.3,520 L706.3,520 L703.9,514 Z" stroke="#303030" stroke-width="0.65" fill="#fff"/>
<path d="M706.9,510 L711.7,510 L711.7,516 L706.9,516 Z M703.3,512 L715.3,512" stroke="#303030" stroke-width="0.65" fill="none"/>
<path d="M705.7,509 L705.7,519 M712.9,509 L712.9,519 M704.3,516 L714.3,516 M705.3,518.4 L713.3,518.4" stroke="#303030" stroke-width="0.65" fill="none"/>
<rect x="707.8" y="512.6" width="3" height="3" fill="#555"/>
<rect x="698.3" y="517.6" width="7.6" height="21.8" rx="2.2" stroke="#303030" stroke-width="0.65" fill="#fff"/>
<rect x="712.7" y="517.6" width="7.6" height="21.8" rx="2.2" stroke="#303030" stroke-width="0.65" fill="#fff"/>
<path d="M702.7,521 Q702.3,530 707.3,539 M715.9,521 Q716.3,530 711.3,539 M704.7,523 L713.9,523 L712.9,528 L705.7,528 Z M706.3,528 L707.1,537 M712.3,528 L711.5,537" stroke="#303030" stroke-width="0.65" fill="none"/>
<path d="M709.3,530 L709.3,545.6" stroke="#444" stroke-width="1" fill="none"/>
<path d="M735.8,474 L735.8,488 M738.6,474 L738.6,488" stroke="#303030" stroke-width="0.65" fill="none"/>
<rect x="735.2" y="481.6" width="4" height="3.4" fill="#333"/>
<path d="M737.2,490 L737.2,508" stroke="#333" stroke-width="5.6" stroke-dasharray="0.8 0.7" fill="none"/>
<path d="M734.2,489.6 L734.2,508 M740.2,489.6 L740.2,508" stroke="#303030" stroke-width="0.65" fill="none"/>
<circle cx="730.8" cy="498" r="1.5" fill="#222"/>
<path d="M732.8,508 L741.6,508 L742.6,514 L740.2,520 L734.2,520 L731.8,514 Z" stroke="#303030" stroke-width="0.65" fill="#fff"/>
<path d="M734.8,510 L739.6,510 L739.6,516 L734.8,516 Z M731.2,512 L743.2,512" stroke="#303030" stroke-width="0.65" fill="none"/>
<path d="M733.6,509 L733.6,519 M740.8,509 L740.8,519 M732.2,516 L742.2,516 M733.2,518.4 L741.2,518.4" stroke="#303030" stroke-width="0.65" fill="none"/>
<rect x="735.7" y="512.6" width="3" height="3" fill="#555"/>
<rect x="726.2" y="517.6" width="7.6" height="21.8" rx="2.2" stroke="#303030" stroke-width="0.65" fill="#fff"/>
<rect x="740.6" y="517.6" width="7.6" height="21.8" rx="2.2" stroke="#303030" stroke-width="0.65" fill="#fff"/>
<path d="M730.6,521 Q730.2,530 735.2,539 M743.8,521 Q744.2,530 739.2,539 M732.6,523 L741.8,523 L740.8,528 L733.6,528 Z M734.2,528 L735,537 M740.2,528 L739.4,537" stroke="#303030" stroke-width="0.65" fill="none"/>
<path d="M737.2,530 L737.2,545.6" stroke="#444" stroke-width="1" fill="none"/>
<rect x="603.4" y="509" width="4.8" height="22.4" rx="1" stroke="#303030" stroke-width="0.65" fill="#fff"/>
<path d="M605.8,509.6 L605.8,531" stroke="#3a3a3a" stroke-width="4" stroke-dasharray="0.7 0.7" fill="none"/>
<rect x="613.8" y="509" width="4.8" height="22.4" rx="1" stroke="#303030" stroke-width="0.65" fill="#fff"/>
<path d="M616.2,509.6 L616.2,531" stroke="#3a3a3a" stroke-width="4" stroke-dasharray="0.7 0.7" fill="none"/>
<path d="M608.2,531.4 L613.8,531.4" stroke="#303030" stroke-width="0.65" fill="none"/>
<rect x="716.9" y="509" width="4.8" height="22.4" rx="1" stroke="#303030" stroke-width="0.65" fill="#fff"/>
<path d="M719.3,509.6 L719.3,531" stroke="#3a3a3a" stroke-width="4" stroke-dasharray="0.7 0.7" fill="none"/>
<rect x="727.3" y="509" width="4.8" height="22.4" rx="1" stroke="#303030" stroke-width="0.65" fill="#fff"/>
<path d="M729.7,509.6 L729.7,531" stroke="#3a3a3a" stroke-width="4" stroke-dasharray="0.7 0.7" fill="none"/>
<path d="M721.7,531.4 L727.3,531.4" stroke="#303030" stroke-width="0.65" fill="none"/>
<path d="M794.8,404 L794.8,399 Q795.3,396 799.8,395.6 Q817.62,394.6 835.43,395.6 Q839.93,396 840.43,399 L840.43,404 Z" stroke="#303030" stroke-width="0.65" fill="none"/>
<path d="M794.8,399.2 L840.43,399.2 M794.8,401.6 L840.43,401.6 M796.8,397.4 Q817.62,396.4 838.43,397.4" stroke="#303030" stroke-width="0.65" fill="none"/>
<path d="M795.8,403 L839.43,403" stroke="#555" stroke-width="1" fill="none"/>
<path d="M841.23,404 L841.23,399 Q841.73,396 846.23,395.6 Q864.05,394.6 881.87,395.6 Q886.37,396 886.87,399 L886.87,404 Z" stroke="#303030" stroke-width="0.65" fill="none"/>
<path d="M841.23,399.2 L886.87,399.2 M841.23,401.6 L886.87,401.6 M843.23,397.4 Q864.05,396.4 884.87,397.4" stroke="#303030" stroke-width="0.65" fill="none"/>
<path d="M842.23,403 L885.87,403" stroke="#555" stroke-width="1" fill="none"/>
<path d="M887.67,404 L887.67,399 Q888.17,396 892.67,395.6 Q910.48,394.6 928.3,395.6 Q932.8,396 933.3,399 L933.3,404 Z" stroke="#303030" stroke-width="0.65" fill="none"/>
<path d="M887.67,399.2 L933.3,399.2 M887.67,401.6 L933.3,401.6 M889.67,397.4 Q910.48,396.4 931.3,397.4" stroke="#303030" stroke-width="0.65" fill="none"/>
<path d="M888.67,403 L932.3,403" stroke="#555" stroke-width="1" fill="none"/>
<path d="M781.9,438 L783.3,425.2 L786.3,409.4 Q786.8,404.4 791.3,404.4 L935.6,404.4 Q940.1,404.4 940.6,409.4 L943.6,425.2 L945,438" stroke="#303030" stroke-width="0.65" fill="none"/>
<path d="M837.73,404.4 L837.73,418.4 M889.17,404.4 L889.17,418.4 M786.3,410.9 L940.6,410.9" stroke="#303030" stroke-width="0.65" fill="none"/>
<rect x="795.56" y="408.8" width="7.2" height="10.4" rx="2" stroke="#303030" stroke-width="0.65" fill="none"/>
<rect x="796.56" y="410" width="5.2" height="8.4" rx="1.6" stroke="#303030" stroke-width="0.65" fill="none"/>
<rect x="816.65" y="408.8" width="7.2" height="10.4" rx="2" stroke="#303030" stroke-width="0.65" fill="none"/>
<rect x="817.65" y="410" width="5.2" height="8.4" rx="1.6" stroke="#303030" stroke-width="0.65" fill="none"/>
<rect x="848.02" y="408.8" width="7.2" height="10.4" rx="2" stroke="#303030" stroke-width="0.65" fill="none"/>
<rect x="849.02" y="410" width="5.2" height="8.4" rx="1.6" stroke="#303030" stroke-width="0.65" fill="none"/>
<rect x="871.68" y="408.8" width="7.2" height="10.4" rx="2" stroke="#303030" stroke-width="0.65" fill="none"/>
<rect x="872.68" y="410" width="5.2" height="8.4" rx="1.6" stroke="#303030" stroke-width="0.65" fill="none"/>
<rect x="924.14" y="408.8" width="7.2" height="10.4" rx="2" stroke="#303030" stroke-width="0.65" fill="none"/>
<rect x="925.14" y="410" width="5.2" height="8.4" rx="1.6" stroke="#303030" stroke-width="0.65" fill="none"/>
<rect x="903.05" y="408.8" width="7.2" height="10.4" rx="2" stroke="#303030" stroke-width="0.65" fill="none"/>
<rect x="904.05" y="410" width="5.2" height="8.4" rx="1.6" stroke="#303030" stroke-width="0.65" fill="none"/>
<path d="M783.8,424.2 Q812.02,434.2 837.73,425.2 Q863.45,435.2 889.17,425.2 Q914.88,434.2 943.1,424.2" stroke="#303030" stroke-width="0.65" fill="none"/>
<path d="M857.85,424.6 l11.6,0" stroke="#7a7a7a" stroke-width="2.6" stroke-dasharray="1.7 0.6" fill="none" transform="skewX(-14) translate(105.73,0)"/>
<path d="M778.9,431 L778.9,458 M948,431 L948,458 M776.9,435 L776.9,506 M950,435 L950,506" stroke="#303030" stroke-width="0.65" fill="none"/>
<rect x="778.9" y="427" width="4" height="6" stroke="#303030" stroke-width="0.65" fill="none"/><rect x="944" y="427" width="4" height="6" stroke="#303030" stroke-width="0.65" fill="none"/>
<path d="M777.9,438.8 L949,438.8" stroke="#4a4a4a" stroke-width="1.4" fill="none"/>
<path d="M794.9,441.8 L804.1,441.8 L801.8,452.6 L797.2,452.6 Z" stroke="#303030" stroke-width="0.65" fill="none"/>
<path d="M793.5,457.6 Q794.5,462.4 797,462.8 L802,462.8 Q804.5,462.4 805.5,457.6 M795.1,460.6 L803.9,460.6" stroke="#303030" stroke-width="0.65" fill="none"/>
<path d="M810.89,441.8 L820.09,441.8 L817.79,452.6 L813.19,452.6 Z" stroke="#303030" stroke-width="0.65" fill="none"/>
<path d="M809.49,457.6 Q810.49,462.4 812.99,462.8 L817.99,462.8 Q820.49,462.4 821.49,457.6 M811.09,460.6 L819.89,460.6" stroke="#303030" stroke-width="0.65" fill="none"/>
<path d="M826.88,441.8 L836.08,441.8 L833.77,452.6 L829.18,452.6 Z" stroke="#303030" stroke-width="0.65" fill="none"/>
<path d="M825.48,457.6 Q826.48,462.4 828.98,462.8 L833.98,462.8 Q836.48,462.4 837.48,457.6 M827.08,460.6 L835.88,460.6" stroke="#303030" stroke-width="0.65" fill="none"/>
<path d="M842.86,441.8 L852.06,441.8 L849.76,452.6 L845.16,452.6 Z" stroke="#303030" stroke-width="0.65" fill="none"/>
<path d="M841.46,457.6 Q842.46,462.4 844.96,462.8 L849.96,462.8 Q852.46,462.4 853.46,457.6 M843.06,460.6 L851.86,460.6" stroke="#303030" stroke-width="0.65" fill="none"/>
<path d="M858.85,441.8 L868.05,441.8 L865.75,452.6 L861.15,452.6 Z" stroke="#303030" stroke-width="0.65" fill="none"/>
<path d="M857.45,457.6 Q858.45,462.4 860.95,462.8 L865.95,462.8 Q868.45,462.4 869.45,457.6 M859.05,460.6 L867.85,460.6" stroke="#303030" stroke-width="0.65" fill="none"/>
<path d="M874.84,441.8 L884.04,441.8 L881.74,452.6 L877.14,452.6 Z" stroke="#303030" stroke-width="0.65" fill="none"/>
<path d="M873.44,457.6 Q874.44,462.4 876.94,462.8 L881.94,462.8 Q884.44,462.4 885.44,457.6 M875.04,460.6 L883.84,460.6" stroke="#303030" stroke-width="0.65" fill="none"/>
<path d="M890.83,441.8 L900.03,441.8 L897.73,452.6 L893.13,452.6 Z" stroke="#303030" stroke-width="0.65" fill="none"/>
<path d="M889.43,457.6 Q890.43,462.4 892.93,462.8 L897.93,462.8 Q900.43,462.4 901.43,457.6 M891.03,460.6 L899.83,460.6" stroke="#303030" stroke-width="0.65" fill="none"/>
<path d="M906.81,441.8 L916.01,441.8 L913.71,452.6 L909.11,452.6 Z" stroke="#303030" stroke-width="0.65" fill="none"/>
<path d="M905.41,457.6 Q906.41,462.4 908.91,462.8 L913.91,462.8 Q916.41,462.4 917.41,457.6 M907.01,460.6 L915.81,460.6" stroke="#303030" stroke-width="0.65" fill="none"/>
<path d="M922.8,441.8 L932,441.8 L929.7,452.6 L925.1,452.6 Z" stroke="#303030" stroke-width="0.65" fill="none"/>
<path d="M921.4,457.6 Q922.4,462.4 924.9,462.8 L929.9,462.8 Q932.4,462.4 933.4,457.6 M923,460.6 L931.8,460.6" stroke="#303030" stroke-width="0.65" fill="none"/>
<path d="M832.36,440 L832.36,453 M834.36,440 L834.36,453" stroke="#303030" stroke-width="0.65" fill="none"/>
<path d="M862.45,440 L862.45,453 M864.45,440 L864.45,453" stroke="#303030" stroke-width="0.65" fill="none"/>
<path d="M892.54,440 L892.54,453 M894.54,440 L894.54,453" stroke="#303030" stroke-width="0.65" fill="none"/>
<path d="M775.9,455.6 L951,455.6" stroke="#5c5c5c" stroke-width="3.4" fill="none"/>
<path d="M776.9,451.4 L950,451.4" stroke="#303030" stroke-width="0.65" fill="none"/>
<path d="M775.9,470.8 L951,470.8" stroke="#303030" stroke-width="0.65" fill="none"/>
<path d="M775.9,473.2 L951,473.2" stroke="#303030" stroke-width="0.65" fill="none"/>
<path d="M775.9,477.8 L951,477.8" stroke="#303030" stroke-width="0.65" fill="none"/>
<path d="M775.9,481.3 L951,481.3" stroke="#303030" stroke-width="0.65" fill="none"/>
<path d="M775.9,485.2 L951,485.2" stroke="#303030" stroke-width="0.65" fill="none"/>
<path d="M775.9,488.2 L951,488.2" stroke="#303030" stroke-width="0.65" fill="none"/>
<path d="M775.9,494 L951,494" stroke="#303030" stroke-width="0.65" fill="none"/>
<path d="M775.9,501 L951,501" stroke="#303030" stroke-width="0.65" fill="none"/>
<path d="M775.9,503.8 L951,503.8" stroke="#303030" stroke-width="0.65" fill="none"/>
<path d="M775.9,508 L951,508" stroke="#303030" stroke-width="0.65" fill="none"/>
<path d="M776.9,486.7 L950,486.7" stroke="#555" stroke-width="0.9" fill="none"/>
<path d="M862.65,462 L862.65,502 M864.25,462 L864.25,502" stroke="#303030" stroke-width="0.65" fill="none"/>
<path d="M792.6,474 L792.6,488 M795.4,474 L795.4,488" stroke="#303030" stroke-width="0.65" fill="none"/>
<rect x="792" y="481.6" width="4" height="3.4" fill="#333"/>
<path d="M794,490 L794,508" stroke="#333" stroke-width="5.6" stroke-dasharray="0.8 0.7" fill="none"/>
<path d="M791,489.6 L791,508 M797,489.6 L797,508" stroke="#303030" stroke-width="0.65" fill="none"/>
<circle cx="800.4" cy="498" r="1.5" fill="#222"/>
<path d="M789.6,508 L798.4,508 L799.4,514 L797,520 L791,520 L788.6,514 Z" stroke="#303030" stroke-width="0.65" fill="#fff"/>
<path d="M791.6,510 L796.4,510 L796.4,516 L791.6,516 Z M788,512 L800,512" stroke="#303030" stroke-width="0.65" fill="none"/>
<path d="M790.4,509 L790.4,519 M797.6,509 L797.6,519 M789,516 L799,516 M790,518.4 L798,518.4" stroke="#303030" stroke-width="0.65" fill="none"/>
<rect x="792.5" y="512.6" width="3" height="3" fill="#555"/>
<rect x="783" y="517.6" width="7.6" height="21.8" rx="2.2" stroke="#303030" stroke-width="0.65" fill="#fff"/>
<rect x="797.4" y="517.6" width="7.6" height="21.8" rx="2.2" stroke="#303030" stroke-width="0.65" fill="#fff"/>
<path d="M787.4,521 Q787,530 792,539 M800.6,521 Q801,530 796,539 M789.4,523 L798.6,523 L797.6,528 L790.4,528 Z M791,528 L791.8,537 M797,528 L796.2,537" stroke="#303030" stroke-width="0.65" fill="none"/>
<path d="M794,530 L794,545.6" stroke="#444" stroke-width="1" fill="none"/>
<path d="M820.9,474 L820.9,488 M823.7,474 L823.7,488" stroke="#303030" stroke-width="0.65" fill="none"/>
<rect x="820.3" y="481.6" width="4" height="3.4" fill="#333"/>
<path d="M822.3,490 L822.3,508" stroke="#333" stroke-width="5.6" stroke-dasharray="0.8 0.7" fill="none"/>
<path d="M819.3,489.6 L819.3,508 M825.3,489.6 L825.3,508" stroke="#303030" stroke-width="0.65" fill="none"/>
<circle cx="828.7" cy="498" r="1.5" fill="#222"/>
<path d="M817.9,508 L826.7,508 L827.7,514 L825.3,520 L819.3,520 L816.9,514 Z" stroke="#303030" stroke-width="0.65" fill="#fff"/>
<path d="M819.9,510 L824.7,510 L824.7,516 L819.9,516 Z M816.3,512 L828.3,512" stroke="#303030" stroke-width="0.65" fill="none"/>
<path d="M818.7,509 L818.7,519 M825.9,509 L825.9,519 M817.3,516 L827.3,516 M818.3,518.4 L826.3,518.4" stroke="#303030" stroke-width="0.65" fill="none"/>
<rect x="820.8" y="512.6" width="3" height="3" fill="#555"/>
<rect x="811.3" y="517.6" width="7.6" height="21.8" rx="2.2" stroke="#303030" stroke-width="0.65" fill="#fff"/>
<rect x="825.7" y="517.6" width="7.6" height="21.8" rx="2.2" stroke="#303030" stroke-width="0.65" fill="#fff"/>
<path d="M815.7,521 Q815.3,530 820.3,539 M828.9,521 Q829.3,530 824.3,539 M817.7,523 L826.9,523 L825.9,528 L818.7,528 Z M819.3,528 L820.1,537 M825.3,528 L824.5,537" stroke="#303030" stroke-width="0.65" fill="none"/>
<path d="M822.3,530 L822.3,545.6" stroke="#444" stroke-width="1" fill="none"/>
<path d="M849.2,474 L849.2,488 M852,474 L852,488" stroke="#303030" stroke-width="0.65" fill="none"/>
<rect x="848.6" y="481.6" width="4" height="3.4" fill="#333"/>
<path d="M850.6,490 L850.6,508" stroke="#333" stroke-width="5.6" stroke-dasharray="0.8 0.7" fill="none"/>
<path d="M847.6,489.6 L847.6,508 M853.6,489.6 L853.6,508" stroke="#303030" stroke-width="0.65" fill="none"/>
<circle cx="857" cy="498" r="1.5" fill="#222"/>
<path d="M846.2,508 L855,508 L856,514 L853.6,520 L847.6,520 L845.2,514 Z" stroke="#303030" stroke-width="0.65" fill="#fff"/>
<path d="M848.2,510 L853,510 L853,516 L848.2,516 Z M844.6,512 L856.6,512" stroke="#303030" stroke-width="0.65" fill="none"/>
<path d="M847,509 L847,519 M854.2,509 L854.2,519 M845.6,516 L855.6,516 M846.6,518.4 L854.6,518.4" stroke="#303030" stroke-width="0.65" fill="none"/>
<rect x="849.1" y="512.6" width="3" height="3" fill="#555"/>
<rect x="839.6" y="517.6" width="7.6" height="21.8" rx="2.2" stroke="#303030" stroke-width="0.65" fill="#fff"/>
<rect x="854" y="517.6" width="7.6" height="21.8" rx="2.2" stroke="#303030" stroke-width="0.65" fill="#fff"/>
<path d="M844,521 Q843.6,530 848.6,539 M857.2,521 Q857.6,530 852.6,539 M846,523 L855.2,523 L854.2,528 L847,528 Z M847.6,528 L848.4,537 M853.6,528 L852.8,537" stroke="#303030" stroke-width="0.65" fill="none"/>
<path d="M850.6,530 L850.6,545.6" stroke="#444" stroke-width="1" fill="none"/>
<path d="M877.3,474 L877.3,488 M880.1,474 L880.1,488" stroke="#303030" stroke-width="0.65" fill="none"/>
<rect x="876.7" y="481.6" width="4" height="3.4" fill="#333"/>
<path d="M878.7,490 L878.7,508" stroke="#333" stroke-width="5.6" stroke-dasharray="0.8 0.7" fill="none"/>
<path d="M875.7,489.6 L875.7,508 M881.7,489.6 L881.7,508" stroke="#303030" stroke-width="0.65" fill="none"/>
<circle cx="885.1" cy="498" r="1.5" fill="#222"/>
<path d="M874.3,508 L883.1,508 L884.1,514 L881.7,520 L875.7,520 L873.3,514 Z" stroke="#303030" stroke-width="0.65" fill="#fff"/>
<path d="M876.3,510 L881.1,510 L881.1,516 L876.3,516 Z M872.7,512 L884.7,512" stroke="#303030" stroke-width="0.65" fill="none"/>
<path d="M875.1,509 L875.1,519 M882.3,509 L882.3,519 M873.7,516 L883.7,516 M874.7,518.4 L882.7,518.4" stroke="#303030" stroke-width="0.65" fill="none"/>
<rect x="877.2" y="512.6" width="3" height="3" fill="#555"/>
<rect x="867.7" y="517.6" width="7.6" height="21.8" rx="2.2" stroke="#303030" stroke-width="0.65" fill="#fff"/>
<rect x="882.1" y="517.6" width="7.6" height="21.8" rx="2.2" stroke="#303030" stroke-width="0.65" fill="#fff"/>
<path d="M872.1,521 Q871.7,530 876.7,539 M885.3,521 Q885.7,530 880.7,539 M874.1,523 L883.3,523 L882.3,528 L875.1,528 Z M875.7,528 L876.5,537 M881.7,528 L880.9,537" stroke="#303030" stroke-width="0.65" fill="none"/>
<path d="M878.7,530 L878.7,545.6" stroke="#444" stroke-width="1" fill="none"/>
<path d="M905.6,474 L905.6,488 M908.4,474 L908.4,488" stroke="#303030" stroke-width="0.65" fill="none"/>
<rect x="905" y="481.6" width="4" height="3.4" fill="#333"/>
<path d="M907,490 L907,508" stroke="#333" stroke-width="5.6" stroke-dasharray="0.8 0.7" fill="none"/>
<path d="M904,489.6 L904,508 M910,489.6 L910,508" stroke="#303030" stroke-width="0.65" fill="none"/>
<circle cx="913.4" cy="498" r="1.5" fill="#222"/>
<path d="M902.6,508 L911.4,508 L912.4,514 L910,520 L904,520 L901.6,514 Z" stroke="#303030" stroke-width="0.65" fill="#fff"/>
<path d="M904.6,510 L909.4,510 L909.4,516 L904.6,516 Z M901,512 L913,512" stroke="#303030" stroke-width="0.65" fill="none"/>
<path d="M903.4,509 L903.4,519 M910.6,509 L910.6,519 M902,516 L912,516 M903,518.4 L911,518.4" stroke="#303030" stroke-width="0.65" fill="none"/>
<rect x="905.5" y="512.6" width="3" height="3" fill="#555"/>
<rect x="896" y="517.6" width="7.6" height="21.8" rx="2.2" stroke="#303030" stroke-width="0.65" fill="#fff"/>
<rect x="910.4" y="517.6" width="7.6" height="21.8" rx="2.2" stroke="#303030" stroke-width="0.65" fill="#fff"/>
<path d="M900.4,521 Q900,530 905,539 M913.6,521 Q914,530 909,539 M902.4,523 L911.6,523 L910.6,528 L903.4,528 Z M904,528 L904.8,537 M910,528 L909.2,537" stroke="#303030" stroke-width="0.65" fill="none"/>
<path d="M907,530 L907,545.6" stroke="#444" stroke-width="1" fill="none"/>
<path d="M933.9,474 L933.9,488 M936.7,474 L936.7,488" stroke="#303030" stroke-width="0.65" fill="none"/>
<rect x="933.3" y="481.6" width="4" height="3.4" fill="#333"/>
<path d="M935.3,490 L935.3,508" stroke="#333" stroke-width="5.6" stroke-dasharray="0.8 0.7" fill="none"/>
<path d="M932.3,489.6 L932.3,508 M938.3,489.6 L938.3,508" stroke="#303030" stroke-width="0.65" fill="none"/>
<circle cx="941.7" cy="498" r="1.5" fill="#222"/>
<path d="M930.9,508 L939.7,508 L940.7,514 L938.3,520 L932.3,520 L929.9,514 Z" stroke="#303030" stroke-width="0.65" fill="#fff"/>
<path d="M932.9,510 L937.7,510 L937.7,516 L932.9,516 Z M929.3,512 L941.3,512" stroke="#303030" stroke-width="0.65" fill="none"/>
<path d="M931.7,509 L931.7,519 M938.9,509 L938.9,519 M930.3,516 L940.3,516 M931.3,518.4 L939.3,518.4" stroke="#303030" stroke-width="0.65" fill="none"/>
<rect x="933.8" y="512.6" width="3" height="3" fill="#555"/>
<rect x="924.3" y="517.6" width="7.6" height="21.8" rx="2.2" stroke="#303030" stroke-width="0.65" fill="#fff"/>
<rect x="938.7" y="517.6" width="7.6" height="21.8" rx="2.2" stroke="#303030" stroke-width="0.65" fill="#fff"/>
<path d="M928.7,521 Q928.3,530 933.3,539 M941.9,521 Q942.3,530 937.3,539 M930.7,523 L939.9,523 L938.9,528 L931.7,528 Z M932.3,528 L933.1,537 M938.3,528 L937.5,537" stroke="#303030" stroke-width="0.65" fill="none"/>
<path d="M935.3,530 L935.3,545.6" stroke="#444" stroke-width="1" fill="none"/>
<rect x="800.3" y="509" width="4.8" height="22.4" rx="1" stroke="#303030" stroke-width="0.65" fill="#fff"/>
<path d="M802.7,509.6 L802.7,531" stroke="#3a3a3a" stroke-width="4" stroke-dasharray="0.7 0.7" fill="none"/>
<rect x="810.7" y="509" width="4.8" height="22.4" rx="1" stroke="#303030" stroke-width="0.65" fill="#fff"/>
<path d="M813.1,509.6 L813.1,531" stroke="#3a3a3a" stroke-width="4" stroke-dasharray="0.7 0.7" fill="none"/>
<path d="M805.1,531.4 L810.7,531.4" stroke="#303030" stroke-width="0.65" fill="none"/>
<rect x="914.4" y="509" width="4.8" height="22.4" rx="1" stroke="#303030" stroke-width="0.65" fill="#fff"/>
<path d="M916.8,509.6 L916.8,531" stroke="#3a3a3a" stroke-width="4" stroke-dasharray="0.7 0.7" fill="none"/>
<rect x="924.8" y="509" width="4.8" height="22.4" rx="1" stroke="#303030" stroke-width="0.65" fill="#fff"/>
<path d="M927.2,509.6 L927.2,531" stroke="#3a3a3a" stroke-width="4" stroke-dasharray="0.7 0.7" fill="none"/>
<path d="M919.2,531.4 L924.8,531.4" stroke="#303030" stroke-width="0.65" fill="none"/>
<rect x="759.4" y="466.2" width="13.3" height="44" stroke="#303030" stroke-width="0.65" fill="#fff"/>
<path d="M762,466.2 L762,510 M770,466.2 L770,510 M759.4,488 L772.7,488 M756.4,470 L759.4,470 M772.7,470 L775.9,470 M756.4,500 L759.4,500 M772.7,500 L775.9,500" stroke="#303030" stroke-width="0.65" fill="none"/>
<circle cx="766" cy="492.6" r="3.4" stroke="#333" stroke-width="1" fill="#fff"/><circle cx="766" cy="492.6" r="1.6" fill="#555"/>
<path d="M761.6,508 L770.4,508 L771.4,514 L769,520 L763,520 L760.6,514 Z" stroke="#303030" stroke-width="0.65" fill="#fff"/>
<rect x="755" y="517.6" width="7.6" height="21.8" rx="2.2" stroke="#303030" stroke-width="0.65" fill="#fff"/>
<rect x="769.4" y="517.6" width="7.6" height="21.8" rx="2.2" stroke="#303030" stroke-width="0.65" fill="#fff"/>
<path d="M759.4,521 Q759,530 764,539 M772.6,521 Q773,530 768,539 M761.4,523 L770.6,523 L769.6,528 L762.4,528 Z" stroke="#303030" stroke-width="0.65" fill="none"/>
<path d="M766,530 L766,545.6" stroke="#444" stroke-width="1" fill="none"/>
</svg>
<div class="t" id="t16" style="left:447px;top:268.6px;font-size:13.2px;letter-spacing:0.9px;font-weight:bold;color:#e2231a;">16°</div>
<div class="t" id="t12" style="left:663.8px;top:264px;font-size:13.2px;letter-spacing:0.5px;font-weight:bold;color:#e2231a;">12°</div>
<div class="t cap" id="c16" style="left:359.4px;top:291.2px;">Ângulo de 16° para cima</div>
<div class="t cap" id="c12" style="left:661.6px;top:291.2px;">Ângulo de 12° para baixo</div>
<div class="t h1" id="h1" style="left:52.2px;top:435px;letter-spacing:-0.45px;">Dimensões</div>
<div class="t h1" id="h2" style="left:52.2px;top:461.7px;letter-spacing:-0.3px;">Máquina</div>
<div class="t h1 b" id="h3" style="left:50.6px;top:488.2px;letter-spacing:-0.8px;">JM 3060/ 3070</div>
<div class="t h1 b" id="h4" style="left:52.2px;top:515.2px;">ART II</div>
<div class="t lab" id="lb" style="left:369.8px;top:559.6px;">B</div>
<div class="t lab" id="lc" style="left:545px;top:469px;">C</div>
<div class="t lab" id="la" style="left:758.6px;top:553.8px;">A</div>
<div class="t cap2" id="mc" style="left:395.4px;top:585.2px;">Máquina mais curta</div>
<div id="tbl">
<div class="t th" id="th0" style="left:219px;top:631px;letter-spacing:0.15px;">DIMENSÃO TRANSPORTE (mm)</div>
<div class="t th" id="th1" style="left:456.6px;top:631px;letter-spacing:0.3px;">09 L</div>
<div class="t th" id="th2" style="left:578px;top:631px;letter-spacing:0.3px;">11 L</div>
<div class="t th" id="th3" style="left:697.6px;top:631px;letter-spacing:0.3px;">13 L</div>
<div class="t td" id="r1a" style="left:225px;top:666.8px;">A</div>
<div class="t td" id="r1b" style="left:266px;top:666.8px;letter-spacing:0.64px;">Largura</div>
<div class="t td" id="r1c" style="left:456.4px;top:666.8px;letter-spacing:0.47px;">4500</div>
<div class="t td" id="r1d" style="left:578px;top:666.8px;letter-spacing:0.47px;">5400</div>
<div class="t td" id="r1e" style="left:697.6px;top:666.8px;letter-spacing:0.47px;">6300</div>
<div class="t td" id="r2a" style="left:225px;top:704.4px;">B</div>
<div class="t td" id="r2b" style="left:266px;top:704.4px;letter-spacing:0.96px;">Comprimento</div>
<div class="t td" id="r2c" style="left:456.4px;top:704.4px;letter-spacing:0.47px;">2500</div>
<div class="t td" id="r2d" style="left:578px;top:704.4px;letter-spacing:0.47px;">2500</div>
<div class="t td" id="r2e" style="left:697.6px;top:704.4px;letter-spacing:0.47px;">2500</div>
<div class="t td" id="r3a" style="left:225px;top:742px;">C</div>
<div class="t td" id="r3b" style="left:266px;top:742px;letter-spacing:0.57px;">Altura</div>
<div class="t td" id="r3c" style="left:456.4px;top:742px;letter-spacing:0.47px;">2230</div>
<div class="t td" id="r3d" style="left:578px;top:742px;letter-spacing:0.47px;">2230</div>
<div class="t td" id="r3e" style="left:697.6px;top:742px;letter-spacing:0.47px;">2230</div>
</div>

</body></html>
